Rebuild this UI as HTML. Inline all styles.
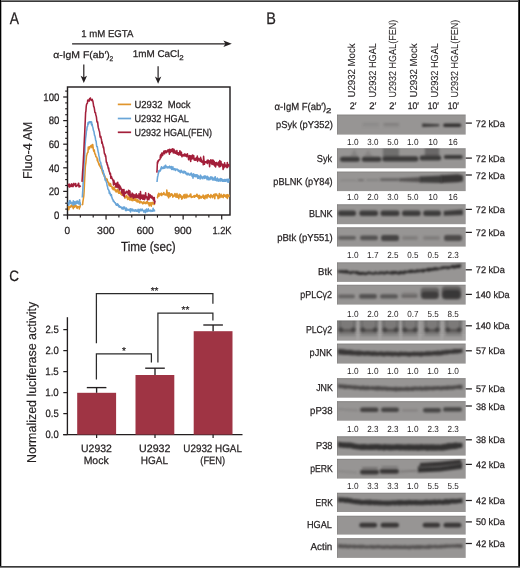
<!DOCTYPE html>
<html><head><meta charset="utf-8"><style>
html,body{margin:0;padding:0;background:#fff;}
svg{display:block;will-change:transform;font-family:"Liberation Sans", sans-serif;text-rendering:geometricPrecision;}
</style></head><body>
<svg width="520" height="568" viewBox="0 0 520 568">
<rect width="520" height="568" fill="#fff"/>
<text x="9.77" y="24.00" font-size="16.80" textLength="9.26" lengthAdjust="spacingAndGlyphs" fill="#231f20" stroke="#231f20" stroke-width="0.25">A</text>
<text x="81.18" y="37.30" font-size="9.90" textLength="52.24" lengthAdjust="spacingAndGlyphs" fill="#231f20" stroke="#231f20" stroke-width="0.25">1 mM EGTA</text>
<line x1="72.1" y1="43.8" x2="226" y2="43.8" stroke="#231f20" stroke-width="1.15"/>
<path d="M231.8,43.8 L223.4,40.5 L225.4,43.8 L223.4,47.1 Z" fill="#231f20"/>
<text x="53.16" y="57.90" font-size="9.70" textLength="56.70" lengthAdjust="spacingAndGlyphs" fill="#231f20" stroke="#231f20" stroke-width="0.25">α-IgM F(ab′)</text>
<text x="109.57" y="60.90" font-size="6.80" textLength="3.67" lengthAdjust="spacingAndGlyphs" fill="#231f20" stroke="#231f20" stroke-width="0.25">2</text>
<text x="132.76" y="57.30" font-size="9.80" textLength="46.71" lengthAdjust="spacingAndGlyphs" fill="#231f20" stroke="#231f20" stroke-width="0.25">1mM CaCl</text>
<text x="179.20" y="60.30" font-size="6.80" textLength="4.40" lengthAdjust="spacingAndGlyphs" fill="#231f20" stroke="#231f20" stroke-width="0.25">2</text>
<line x1="83.8" y1="64.4" x2="83.8" y2="79.0" stroke="#231f20" stroke-width="1.2"/>
<path d="M83.8,83.0 L80.6,75.8 L83.8,77.6 L87.0,75.8 Z" fill="#231f20"/>
<line x1="158.1" y1="66.3" x2="158.1" y2="79.8" stroke="#231f20" stroke-width="1.2"/>
<path d="M158.1,83.8 L154.9,76.6 L158.1,78.39999999999999 L161.29999999999998,76.6 Z" fill="#231f20"/>
<rect x="67.5" y="87" width="162.5" height="128" fill="none" stroke="#231f20" stroke-width="1.45"/>
<line x1="63.2" y1="215.0" x2="67.5" y2="215.0" stroke="#231f20" stroke-width="1.25"/>
<text x="54.04" y="218.80" font-size="10.90" textLength="5.33" lengthAdjust="spacingAndGlyphs" fill="#231f20" stroke="#231f20" stroke-width="0.25">0</text>
<line x1="65.2" y1="209.1" x2="67.5" y2="209.1" stroke="#231f20" stroke-width="1.15"/>
<line x1="65.2" y1="203.2" x2="67.5" y2="203.2" stroke="#231f20" stroke-width="1.15"/>
<line x1="65.2" y1="197.3" x2="67.5" y2="197.3" stroke="#231f20" stroke-width="1.15"/>
<line x1="63.2" y1="191.4" x2="67.5" y2="191.4" stroke="#231f20" stroke-width="1.25"/>
<text x="48.71" y="195.20" font-size="10.90" textLength="10.67" lengthAdjust="spacingAndGlyphs" fill="#231f20" stroke="#231f20" stroke-width="0.25">20</text>
<line x1="65.2" y1="185.5" x2="67.5" y2="185.5" stroke="#231f20" stroke-width="1.15"/>
<line x1="65.2" y1="179.6" x2="67.5" y2="179.6" stroke="#231f20" stroke-width="1.15"/>
<line x1="65.2" y1="173.7" x2="67.5" y2="173.7" stroke="#231f20" stroke-width="1.15"/>
<line x1="63.2" y1="167.8" x2="67.5" y2="167.8" stroke="#231f20" stroke-width="1.25"/>
<text x="48.71" y="171.60" font-size="10.90" textLength="10.67" lengthAdjust="spacingAndGlyphs" fill="#231f20" stroke="#231f20" stroke-width="0.25">40</text>
<line x1="65.2" y1="161.9" x2="67.5" y2="161.9" stroke="#231f20" stroke-width="1.15"/>
<line x1="65.2" y1="156.0" x2="67.5" y2="156.0" stroke="#231f20" stroke-width="1.15"/>
<line x1="65.2" y1="150.10000000000002" x2="67.5" y2="150.10000000000002" stroke="#231f20" stroke-width="1.15"/>
<line x1="63.2" y1="144.2" x2="67.5" y2="144.2" stroke="#231f20" stroke-width="1.25"/>
<text x="48.71" y="148.00" font-size="10.90" textLength="10.67" lengthAdjust="spacingAndGlyphs" fill="#231f20" stroke="#231f20" stroke-width="0.25">60</text>
<line x1="65.2" y1="138.3" x2="67.5" y2="138.3" stroke="#231f20" stroke-width="1.15"/>
<line x1="65.2" y1="132.4" x2="67.5" y2="132.4" stroke="#231f20" stroke-width="1.15"/>
<line x1="65.2" y1="126.5" x2="67.5" y2="126.5" stroke="#231f20" stroke-width="1.15"/>
<line x1="63.2" y1="120.60000000000001" x2="67.5" y2="120.60000000000001" stroke="#231f20" stroke-width="1.25"/>
<text x="48.71" y="124.40" font-size="10.90" textLength="10.67" lengthAdjust="spacingAndGlyphs" fill="#231f20" stroke="#231f20" stroke-width="0.25">80</text>
<line x1="65.2" y1="114.7" x2="67.5" y2="114.7" stroke="#231f20" stroke-width="1.15"/>
<line x1="65.2" y1="108.80000000000001" x2="67.5" y2="108.80000000000001" stroke="#231f20" stroke-width="1.15"/>
<line x1="65.2" y1="102.9" x2="67.5" y2="102.9" stroke="#231f20" stroke-width="1.15"/>
<line x1="63.2" y1="97.0" x2="67.5" y2="97.0" stroke="#231f20" stroke-width="1.25"/>
<text x="43.37" y="100.80" font-size="10.90" textLength="16.00" lengthAdjust="spacingAndGlyphs" fill="#231f20" stroke="#231f20" stroke-width="0.25">100</text>
<line x1="65.2" y1="91.10000000000001" x2="67.5" y2="91.10000000000001" stroke="#231f20" stroke-width="1.15"/>
<line x1="67.5" y1="215" x2="67.5" y2="219.4" stroke="#231f20" stroke-width="1.25"/>
<text x="64.40" y="233.50" font-size="10.40" textLength="5.59" lengthAdjust="spacingAndGlyphs" fill="#231f20" stroke="#231f20" stroke-width="0.25">0</text>
<line x1="80.35" y1="215" x2="80.35" y2="217.6" stroke="#231f20" stroke-width="1.15"/>
<line x1="93.2" y1="215" x2="93.2" y2="217.6" stroke="#231f20" stroke-width="1.15"/>
<line x1="106.05000000000001" y1="215" x2="106.05000000000001" y2="219.4" stroke="#231f20" stroke-width="1.25"/>
<text x="97.11" y="233.50" font-size="10.40" textLength="17.50" lengthAdjust="spacingAndGlyphs" fill="#231f20" stroke="#231f20" stroke-width="0.25">300</text>
<line x1="118.9" y1="215" x2="118.9" y2="217.6" stroke="#231f20" stroke-width="1.15"/>
<line x1="131.75" y1="215" x2="131.75" y2="217.6" stroke="#231f20" stroke-width="1.15"/>
<line x1="144.60000000000002" y1="215" x2="144.60000000000002" y2="219.4" stroke="#231f20" stroke-width="1.25"/>
<text x="136.38" y="233.50" font-size="10.40" textLength="17.32" lengthAdjust="spacingAndGlyphs" fill="#231f20" stroke="#231f20" stroke-width="0.25">600</text>
<line x1="157.45" y1="215" x2="157.45" y2="217.6" stroke="#231f20" stroke-width="1.15"/>
<line x1="170.3" y1="215" x2="170.3" y2="217.6" stroke="#231f20" stroke-width="1.15"/>
<line x1="183.15" y1="215" x2="183.15" y2="219.4" stroke="#231f20" stroke-width="1.25"/>
<text x="174.25" y="233.50" font-size="10.40" textLength="17.40" lengthAdjust="spacingAndGlyphs" fill="#231f20" stroke="#231f20" stroke-width="0.25">900</text>
<line x1="196.0" y1="215" x2="196.0" y2="217.6" stroke="#231f20" stroke-width="1.15"/>
<line x1="208.85" y1="215" x2="208.85" y2="217.6" stroke="#231f20" stroke-width="1.15"/>
<line x1="221.70000000000002" y1="215" x2="221.70000000000002" y2="219.4" stroke="#231f20" stroke-width="1.25"/>
<text x="212.40" y="233.50" font-size="10.40" textLength="19.21" lengthAdjust="spacingAndGlyphs" fill="#231f20" stroke="#231f20" stroke-width="0.25">1.2K</text>
<text x="121.04" y="251.20" font-size="13.20" textLength="54.59" lengthAdjust="spacingAndGlyphs" fill="#231f20" stroke="#231f20" stroke-width="0.25">Time (sec)</text>
<text transform="translate(32.30,179.04) rotate(-90)" x="0" y="0" font-size="12.90" textLength="57.37" lengthAdjust="spacingAndGlyphs" fill="#231f20" stroke="#231f20" stroke-width="0.12">Fluo-4 AM</text>
<line x1="117.8" y1="104.4" x2="131.1" y2="104.4" stroke="#e0952c" stroke-width="1.7"/>
<text x="134.46" y="107.80" font-size="10.20" textLength="56.03" lengthAdjust="spacingAndGlyphs" fill="#231f20" stroke="#231f20" stroke-width="0.25">U2932  Mock</text>
<line x1="117.8" y1="118.5" x2="131.1" y2="118.5" stroke="#69a5d8" stroke-width="1.7"/>
<text x="134.49" y="121.90" font-size="10.20" textLength="54.31" lengthAdjust="spacingAndGlyphs" fill="#231f20" stroke="#231f20" stroke-width="0.25">U2932 HGAL</text>
<line x1="117.8" y1="132.3" x2="131.1" y2="132.3" stroke="#a31f3a" stroke-width="1.7"/>
<text x="134.50" y="135.70" font-size="10.20" textLength="77.47" lengthAdjust="spacingAndGlyphs" fill="#231f20" stroke="#231f20" stroke-width="0.25">U2932 HGAL(FEN)</text>
<path d="M68.20,207.27 L68.50,206.61 L68.80,209.75 L69.10,207.73 L69.40,206.99 L69.70,207.14 L70.00,207.33 L70.30,206.27 L70.60,206.64 L70.90,206.87 L71.20,205.94 L71.50,205.13 L71.80,205.13 L72.10,206.73 L72.40,206.95 L72.70,205.73 L73.00,206.68 L73.30,208.65 L73.60,207.60 L73.90,205.49 L74.20,207.20 L74.50,207.16 L74.80,206.28 L75.10,206.57 L75.40,204.92 L75.70,205.76 L76.00,205.61 L76.30,205.94 L76.60,207.58 L76.90,207.89 L77.20,208.32 L77.50,206.59 L77.80,206.58 L78.10,206.52 L78.40,206.94 L78.70,206.93 L79.00,206.74 L79.30,208.97 L79.60,206.67 L79.90,207.25 L80.20,206.07 L80.50,204.26 M82.00,204.83 L82.30,204.41 L82.60,204.62 L82.90,201.56 L83.20,199.79 L83.50,197.82 L83.80,195.97 L84.10,191.53 L84.40,184.92 L84.70,178.56 L85.00,173.28 L85.30,167.16 L85.60,164.51 L85.90,162.60 L86.20,159.41 L86.50,155.84 L86.80,154.96 L87.10,153.76 L87.40,152.93 L87.70,152.57 L88.00,152.22 L88.30,147.09 L88.60,148.55 L88.90,148.13 L89.20,148.91 L89.50,146.89 L89.80,148.11 L90.10,146.96 L90.40,146.27 L90.70,145.73 L91.00,146.44 L91.30,145.21 L91.60,146.44 L91.90,147.62 L92.20,146.59 L92.50,144.57 L92.80,144.68 L93.10,147.99 L93.40,149.50 L93.70,151.18 L94.00,150.89 L94.30,150.04 L94.60,152.72 L94.90,153.81 L95.20,154.56 L95.50,154.10 L95.80,156.59 L96.10,156.95 L96.40,157.15 L96.70,157.05 L97.00,158.00 L97.30,160.59 L97.60,158.73 L97.90,161.99 L98.20,162.01 L98.50,162.77 L98.80,164.06 L99.10,165.06 L99.40,164.08 L99.70,164.79 L100.00,166.52 L100.30,166.14 L100.60,167.19 L100.90,168.19 L101.20,167.81 L101.50,168.61 L101.80,170.17 L102.10,170.17 L102.40,172.08 L102.70,171.95 L103.00,173.76 L103.30,173.71 L103.60,174.62 L103.90,174.81 L104.20,176.08 L104.50,176.74 L104.80,175.94 L105.10,177.03 L105.40,178.68 L105.70,178.23 L106.00,180.19 L106.30,179.43 L106.60,179.06 L106.90,180.51 L107.20,179.15 L107.50,181.59 L107.80,182.27 L108.10,181.86 L108.40,182.67 L108.70,182.45 L109.00,185.24 L109.30,183.81 L109.60,184.64 L109.90,185.34 L110.20,186.22 L110.50,183.62 L110.80,184.65 L111.10,186.23 L111.40,186.39 L111.70,186.94 L112.00,186.70 L112.30,188.67 L112.60,187.73 L112.90,187.35 L113.20,189.75 L113.50,188.75 L113.80,187.47 L114.10,188.73 L114.40,186.95 L114.70,189.73 L115.00,190.25 L115.30,190.93 L115.60,189.91 L115.90,190.08 L116.20,192.01 L116.50,191.31 L116.80,190.78 L117.10,191.74 L117.40,189.22 L117.70,190.68 L118.00,189.77 L118.30,191.69 L118.60,193.17 L118.90,191.75 L119.20,191.24 L119.50,193.18 L119.80,191.76 L120.10,193.19 L120.40,192.18 L120.70,194.09 L121.00,192.08 L121.30,193.59 L121.60,194.45 L121.90,195.10 L122.20,194.56 L122.50,194.30 L122.80,195.03 L123.10,194.98 L123.40,194.99 L123.70,195.56 L124.00,193.20 L124.30,195.66 L124.60,196.46 L124.90,198.17 L125.20,197.35 L125.50,196.20 L125.80,197.24 L126.10,197.50 L126.40,196.50 L126.70,195.41 L127.00,196.43 L127.30,196.89 L127.60,199.47 L127.90,198.82 L128.20,199.07 L128.50,197.01 L128.80,197.97 L129.10,197.29 L129.40,199.51 L129.70,199.97 L130.00,197.54 L130.30,199.49 L130.60,199.00 L130.90,196.91 L131.20,200.40 L131.50,199.58 L131.80,197.63 L132.10,197.81 L132.40,198.41 L132.70,200.76 L133.00,200.33 L133.30,200.11 L133.60,199.72 L133.90,197.52 L134.20,198.71 L134.50,200.33 L134.80,200.01 L135.10,200.05 L135.40,200.39 L135.70,198.32 L136.00,201.01 L136.30,200.62 L136.60,200.59 L136.90,200.16 L137.20,202.09 L137.50,201.92 L137.80,199.53 L138.10,201.65 L138.40,201.25 L138.70,202.02 L139.00,201.07 L139.30,201.35 L139.60,202.80 L139.90,203.00 L140.20,201.65 L140.50,201.26 L140.80,202.02 L141.10,202.01 L141.40,201.89 L141.70,202.58 L142.00,202.19 L142.30,202.17 L142.60,203.77 L142.90,203.73 L143.20,202.16 L143.50,203.27 L143.80,201.76 L144.10,202.09 L144.40,202.99 L144.70,202.77 L145.00,203.33 L145.30,202.49 L145.60,203.13 L145.90,203.67 L146.20,203.40 L146.50,201.79 L146.80,203.04 L147.10,202.64 L147.40,201.59 L147.70,202.60 L148.00,203.10 L148.30,203.97 L148.60,202.80 L148.90,203.77 L149.20,205.89 L149.50,204.39 L149.80,202.81 L150.10,204.93 L150.40,203.67 L150.70,204.24 L151.00,202.62 L151.30,206.28 L151.60,203.78 L151.90,203.22 L152.20,202.70 L152.50,203.93 L152.80,202.39 L153.10,202.38 L153.40,203.44 L153.70,203.30 L154.00,204.56 L154.30,204.04 L154.60,204.97 M156.90,198.01 L157.20,197.83 L157.50,197.81 L157.80,195.95 L158.10,194.35 L158.40,196.04 L158.70,193.21 L159.00,196.20 L159.30,193.87 L159.60,194.04 L159.90,193.96 L160.20,194.48 L160.50,193.68 L160.80,195.08 L161.10,193.91 L161.40,193.16 L161.70,195.56 L162.00,193.68 L162.30,193.83 L162.60,194.49 L162.90,194.11 L163.20,194.50 L163.50,194.23 L163.80,192.44 L164.10,193.96 L164.40,193.81 L164.70,193.97 L165.00,194.91 L165.30,194.36 L165.60,194.30 L165.90,194.99 L166.20,195.07 L166.50,194.93 L166.80,190.07 L167.10,192.33 L167.40,195.91 L167.70,194.54 L168.00,192.85 L168.30,194.84 L168.60,197.82 L168.90,193.90 L169.20,192.79 L169.50,194.78 L169.80,196.42 L170.10,196.44 L170.40,195.54 L170.70,194.41 L171.00,193.88 L171.30,194.67 L171.60,193.67 L171.90,195.27 L172.20,194.35 L172.50,195.68 L172.80,197.16 L173.10,195.52 L173.40,195.61 L173.70,195.31 L174.00,196.16 L174.30,195.14 L174.60,195.28 L174.90,193.46 L175.20,194.07 L175.50,196.09 L175.80,195.99 L176.10,197.27 L176.40,196.09 L176.70,194.68 L177.00,193.54 L177.30,197.31 L177.60,194.92 L177.90,196.86 L178.20,195.42 L178.50,195.59 L178.80,198.74 L179.10,196.05 L179.40,194.32 L179.70,196.78 L180.00,196.57 L180.30,194.77 L180.60,196.25 L180.90,197.16 L181.20,195.89 L181.50,196.71 L181.80,199.11 L182.10,196.21 L182.40,196.78 L182.70,198.31 L183.00,197.45 L183.30,197.22 L183.60,196.80 L183.90,194.78 L184.20,195.38 L184.50,195.98 L184.80,198.12 L185.10,194.25 L185.40,196.91 L185.70,196.99 L186.00,197.53 L186.30,195.95 L186.60,197.76 L186.90,194.33 L187.20,196.16 L187.50,195.96 L187.80,195.81 L188.10,196.86 L188.40,196.13 L188.70,196.54 L189.00,196.22 L189.30,196.46 L189.60,195.77 L189.90,195.60 L190.20,194.41 L190.50,196.55 L190.80,194.08 L191.10,196.44 L191.40,197.41 L191.70,196.98 L192.00,196.74 L192.30,196.87 L192.60,197.10 L192.90,196.94 L193.20,196.39 L193.50,196.69 L193.80,195.89 L194.10,196.24 L194.40,197.31 L194.70,195.49 L195.00,196.40 L195.30,195.61 L195.60,196.57 L195.90,195.77 L196.20,195.39 L196.50,196.23 L196.80,194.32 L197.10,194.37 L197.40,195.58 L197.70,197.07 L198.00,195.93 L198.30,195.78 L198.60,195.69 L198.90,198.78 L199.20,195.24 L199.50,196.93 L199.80,198.31 L200.10,197.16 L200.40,196.40 L200.70,196.33 L201.00,197.68 L201.30,197.99 L201.60,196.94 L201.90,196.64 L202.20,196.95 L202.50,196.87 L202.80,197.17 L203.10,194.96 L203.40,196.84 L203.70,198.27 L204.00,195.90 L204.30,197.65 L204.60,196.40 L204.90,198.90 L205.20,195.91 L205.50,195.96 L205.80,195.30 L206.10,197.17 L206.40,195.18 L206.70,197.55 L207.00,198.15 L207.30,196.91 L207.60,194.89 L207.90,196.12 L208.20,194.48 L208.50,195.87 L208.80,195.63 L209.10,196.91 L209.40,196.85 L209.70,196.58 L210.00,195.90 L210.30,197.31 L210.60,197.70 L210.90,194.60 L211.20,196.16 L211.50,195.49 L211.80,196.57 L212.10,196.58 L212.40,196.19 L212.70,197.68 L213.00,195.41 L213.30,196.53 L213.60,194.62 L213.90,195.63 L214.20,196.62 L214.50,196.35 L214.80,198.71 L215.10,193.85 L215.40,195.24 L215.70,195.48 L216.00,195.29 L216.30,195.22 L216.60,194.05 L216.90,195.49 L217.20,195.33 L217.50,195.50 L217.80,196.59 L218.10,198.72 L218.40,198.07 L218.70,196.31 L219.00,196.19 L219.30,193.53 L219.60,197.69 L219.90,197.67 L220.20,196.25 L220.50,196.60 L220.80,195.46 L221.10,194.35 L221.40,196.98 L221.70,195.44 L222.00,196.67 L222.30,195.79 L222.60,196.67 L222.90,197.22 L223.20,197.63 L223.50,194.64 L223.80,195.32 L224.10,194.68 L224.40,196.18 L224.70,195.17 L225.00,196.12 L225.30,196.14 L225.60,196.85 L225.90,196.49 L226.20,194.82 L226.50,196.61 L226.80,197.60 L227.10,196.96 L227.40,198.37 L227.70,194.65 L228.00,196.66 L228.30,196.64 L228.60,195.30 L228.90,195.17 L229.20,196.85" fill="none" stroke="#e0952c" stroke-width="1.55" stroke-linejoin="round"/>
<path d="M68.20,202.27 L68.50,203.72 L68.80,205.13 L69.10,202.29 L69.40,200.82 L69.70,200.74 L70.00,200.48 L70.30,201.61 L70.60,203.37 L70.90,203.04 L71.20,202.42 L71.50,203.62 L71.80,202.53 L72.10,203.01 L72.40,203.65 L72.70,202.46 L73.00,205.06 L73.30,200.75 L73.60,201.63 L73.90,202.35 L74.20,204.68 L74.50,202.73 L74.80,201.69 L75.10,202.37 L75.40,203.69 L75.70,204.07 L76.00,202.49 L76.30,201.35 L76.60,203.37 L76.90,203.32 L77.20,201.75 L77.50,201.04 L77.80,202.86 L78.10,201.76 L78.40,203.70 L78.70,202.25 L79.00,204.08 L79.30,201.94 L79.60,199.69 L79.90,201.92 L80.20,202.92 L80.50,205.42 M82.30,197.53 L82.60,193.00 L82.90,188.09 L83.20,181.82 L83.50,177.11 L83.80,170.08 L84.10,164.31 L84.40,159.01 L84.70,156.00 L85.00,146.69 L85.30,142.62 L85.60,138.42 L85.90,136.34 L86.20,134.03 L86.50,130.24 L86.80,130.13 L87.10,126.93 L87.40,126.81 L87.70,125.63 L88.00,122.89 L88.30,122.21 L88.60,123.88 L88.90,122.18 L89.20,122.80 L89.50,121.76 L89.80,121.80 L90.10,121.92 L90.40,122.26 L90.70,121.83 L91.00,121.71 L91.30,124.28 L91.60,122.14 L91.90,125.34 L92.20,124.15 L92.50,126.77 L92.80,127.05 L93.10,128.59 L93.40,130.34 L93.70,130.86 L94.00,131.67 L94.30,133.82 L94.60,135.56 L94.90,135.85 L95.20,137.18 L95.50,139.23 L95.80,140.73 L96.10,140.99 L96.40,143.60 L96.70,146.50 L97.00,146.81 L97.30,146.65 L97.60,148.80 L97.90,150.40 L98.20,152.18 L98.50,152.88 L98.80,155.21 L99.10,156.30 L99.40,157.27 L99.70,160.36 L100.00,161.20 L100.30,161.89 L100.60,162.08 L100.90,163.56 L101.20,164.89 L101.50,165.91 L101.80,166.61 L102.10,168.20 L102.40,169.65 L102.70,171.21 L103.00,170.46 L103.30,171.00 L103.60,173.55 L103.90,175.21 L104.20,174.11 L104.50,176.90 L104.80,177.42 L105.10,180.07 L105.40,179.19 L105.70,179.85 L106.00,181.27 L106.30,181.89 L106.60,182.71 L106.90,184.25 L107.20,186.25 L107.50,186.25 L107.80,188.51 L108.10,189.23 L108.40,189.42 L108.70,190.17 L109.00,190.57 L109.30,193.47 L109.60,191.73 L109.90,193.33 L110.20,193.34 L110.50,195.16 L110.80,195.69 L111.10,195.32 L111.40,194.63 L111.70,197.10 L112.00,197.48 L112.30,198.95 L112.60,199.25 L112.90,199.18 L113.20,201.05 L113.50,200.57 L113.80,201.41 L114.10,201.36 L114.40,202.14 L114.70,202.79 L115.00,202.51 L115.30,202.86 L115.60,203.69 L115.90,204.60 L116.20,203.91 L116.50,205.20 L116.80,204.36 L117.10,205.23 L117.40,203.83 L117.70,203.98 L118.00,205.34 L118.30,204.66 L118.60,206.68 L118.90,206.32 L119.20,205.83 L119.50,205.91 L119.80,207.22 L120.10,207.11 L120.40,206.81 L120.70,207.16 L121.00,207.65 L121.30,207.12 L121.60,207.51 L121.90,208.71 L122.20,208.48 L122.50,207.60 L122.80,208.80 L123.10,209.11 L123.40,207.09 L123.70,208.31 L124.00,207.47 L124.30,208.54 L124.60,207.04 L124.90,207.55 L125.20,208.01 L125.50,210.51 L125.80,208.59 L126.10,210.71 L126.40,208.12 L126.70,210.07 L127.00,210.26 L127.30,209.13 L127.60,209.90 L127.90,209.61 L128.20,210.21 L128.50,209.66 L128.80,209.91 L129.10,209.38 L129.40,209.76 L129.70,210.64 L130.00,210.31 L130.30,208.91 L130.60,212.05 L130.90,208.74 L131.20,210.52 L131.50,209.36 L131.80,209.36 L132.10,210.08 L132.40,210.58 L132.70,209.14 L133.00,211.02 L133.30,210.60 L133.60,210.26 L133.90,210.30 L134.20,210.96 L134.50,210.22 L134.80,211.08 L135.10,209.80 L135.40,210.60 L135.70,210.88 L136.00,209.81 L136.30,211.19 L136.60,210.60 L136.90,210.66 L137.20,211.32 L137.50,211.16 L137.80,209.95 L138.10,209.19 L138.40,211.20 L138.70,209.85 L139.00,212.54 L139.30,210.30 L139.60,209.50 L139.90,210.47 L140.20,210.80 L140.50,210.63 L140.80,209.16 L141.10,210.72 L141.40,209.52 L141.70,210.55 L142.00,209.41 L142.30,209.15 L142.60,210.18 L142.90,210.74 L143.20,210.64 L143.50,210.81 L143.80,211.93 L144.10,210.47 L144.40,211.37 L144.70,211.59 L145.00,210.30 L145.30,212.64 L145.60,210.04 L145.90,211.06 L146.20,211.19 L146.50,209.04 L146.80,211.75 L147.10,209.90 L147.40,211.52 L147.70,211.09 L148.00,210.93 L148.30,208.74 L148.60,210.89 L148.90,210.64 L149.20,210.64 L149.50,210.97 L149.80,210.56 L150.10,210.12 L150.40,210.18 L150.70,210.72 L151.00,211.50 L151.30,210.68 L151.60,210.48 L151.90,210.85 L152.20,210.98 L152.50,211.19 L152.80,211.29 L153.10,208.36 L153.40,209.86 L153.70,210.62 L154.00,209.76 L154.30,210.84 L154.60,210.74 L154.90,210.25 M157.00,181.98 L157.30,179.45 L157.60,176.65 L157.90,175.96 L158.20,173.84 L158.50,173.19 L158.80,170.82 L159.10,171.58 L159.40,171.57 L159.70,170.42 L160.00,169.98 L160.30,171.08 L160.60,170.08 L160.90,168.08 L161.20,168.91 L161.50,166.72 L161.80,168.60 L162.10,167.50 L162.40,167.49 L162.70,168.06 L163.00,168.56 L163.30,167.40 L163.60,168.20 L163.90,167.99 L164.20,166.34 L164.50,167.97 L164.80,168.21 L165.10,167.10 L165.40,165.26 L165.70,165.22 L166.00,166.64 L166.30,166.93 L166.60,167.03 L166.90,166.82 L167.20,167.98 L167.50,167.05 L167.80,166.90 L168.10,166.73 L168.40,167.61 L168.70,167.41 L169.00,167.29 L169.30,167.89 L169.60,166.14 L169.90,166.72 L170.20,167.72 L170.50,167.31 L170.80,167.23 L171.10,168.57 L171.40,166.48 L171.70,169.41 L172.00,168.31 L172.30,169.12 L172.60,169.07 L172.90,166.76 L173.20,169.58 L173.50,169.04 L173.80,168.80 L174.10,169.77 L174.40,168.65 L174.70,168.99 L175.00,169.60 L175.30,169.29 L175.60,170.43 L175.90,168.94 L176.20,169.66 L176.50,169.43 L176.80,169.38 L177.10,169.17 L177.40,169.43 L177.70,169.58 L178.00,170.81 L178.30,170.05 L178.60,171.22 L178.90,171.29 L179.20,170.52 L179.50,171.70 L179.80,171.19 L180.10,171.31 L180.40,172.67 L180.70,171.85 L181.00,170.24 L181.30,170.95 L181.60,170.56 L181.90,171.98 L182.20,171.60 L182.50,172.55 L182.80,172.24 L183.10,172.91 L183.40,171.90 L183.70,173.00 L184.00,171.01 L184.30,172.79 L184.60,172.03 L184.90,171.83 L185.20,172.86 L185.50,171.84 L185.80,173.76 L186.10,172.69 L186.40,173.48 L186.70,174.34 L187.00,174.70 L187.30,174.34 L187.60,173.35 L187.90,174.77 L188.20,173.33 L188.50,173.97 L188.80,174.48 L189.10,174.51 L189.40,174.43 L189.70,175.12 L190.00,174.02 L190.30,175.07 L190.60,174.61 L190.90,173.78 L191.20,173.07 L191.50,174.30 L191.80,174.92 L192.10,176.40 L192.40,174.43 L192.70,174.61 L193.00,178.18 L193.30,173.85 L193.60,176.57 L193.90,174.67 L194.20,174.43 L194.50,175.41 L194.80,174.88 L195.10,176.56 L195.40,176.64 L195.70,174.88 L196.00,176.33 L196.30,175.75 L196.60,174.85 L196.90,176.95 L197.20,176.85 L197.50,174.94 L197.80,178.35 L198.10,175.49 L198.40,178.25 L198.70,176.43 L199.00,176.36 L199.30,177.67 L199.60,177.26 L199.90,177.93 L200.20,178.98 L200.50,175.15 L200.80,175.69 L201.10,177.36 L201.40,176.57 L201.70,177.02 L202.00,178.40 L202.30,177.31 L202.60,177.24 L202.90,178.62 L203.20,176.51 L203.50,177.57 L203.80,176.80 L204.10,176.55 L204.40,175.97 L204.70,178.37 L205.00,178.24 L205.30,176.23 L205.60,175.95 L205.90,176.80 L206.20,177.91 L206.50,178.21 L206.80,177.28 L207.10,179.71 L207.40,176.36 L207.70,176.84 L208.00,178.21 L208.30,179.06 L208.60,177.63 L208.90,179.92 L209.20,178.37 L209.50,178.92 L209.80,179.14 L210.10,179.55 L210.40,177.27 L210.70,176.81 L211.00,177.83 L211.30,178.38 L211.60,176.98 L211.90,179.02 L212.20,179.15 L212.50,179.85 L212.80,177.40 L213.10,179.23 L213.40,179.13 L213.70,179.83 L214.00,178.73 L214.30,179.97 L214.60,178.16 L214.90,177.30 L215.20,176.74 L215.50,180.12 L215.80,178.77 L216.10,179.21 L216.40,180.66 L216.70,180.20 L217.00,180.66 L217.30,178.05 L217.60,179.50 L217.90,178.82 L218.20,181.17 L218.50,180.27 L218.80,180.98 L219.10,180.82 L219.40,179.41 L219.70,180.46 L220.00,180.90 L220.30,178.54 L220.60,180.97 L220.90,179.98 L221.20,178.71 L221.50,180.46 L221.80,180.29 L222.10,179.22 L222.40,181.31 L222.70,181.17 L223.00,180.20 L223.30,180.06 L223.60,181.25 L223.90,180.84 L224.20,179.53 L224.50,179.88 L224.80,181.28 L225.10,179.61 L225.40,181.31 L225.70,181.17 L226.00,181.07 L226.30,179.50 L226.60,180.23 L226.90,180.15 L227.20,179.33 L227.50,181.97 L227.80,181.62 L228.10,180.47 L228.40,179.30 L228.70,182.23 L229.00,179.27 L229.30,180.57" fill="none" stroke="#69a5d8" stroke-width="1.55" stroke-linejoin="round"/>
<path d="M68.20,184.00 L68.50,185.37 L68.80,186.39 L69.10,183.92 L69.40,187.08 L69.70,184.69 L70.00,186.09 L70.30,186.63 L70.60,185.68 L70.90,186.06 L71.20,184.53 L71.50,183.87 L71.80,186.41 L72.10,184.88 L72.40,184.60 L72.70,184.22 L73.00,186.67 L73.30,186.03 L73.60,183.89 L73.90,183.35 L74.20,184.76 L74.50,184.12 L74.80,184.68 L75.10,184.96 L75.40,185.86 L75.70,183.64 L76.00,186.59 L76.30,185.99 L76.60,186.15 L76.90,185.61 L77.20,185.74 L77.50,185.61 L77.80,184.78 L78.10,184.91 L78.40,183.35 L78.70,183.32 L79.00,187.06 L79.30,185.62 L79.60,185.66 L79.90,186.45 L80.20,186.03 L80.50,186.73 M82.00,181.85 L82.30,177.53 L82.60,172.05 L82.90,168.23 L83.20,163.00 L83.50,157.60 L83.80,151.87 L84.10,144.75 L84.40,138.76 L84.70,132.98 L85.00,126.27 L85.30,119.88 L85.60,112.54 L85.90,111.25 L86.20,106.87 L86.50,104.70 L86.80,103.74 L87.10,103.69 L87.40,103.21 L87.70,100.34 L88.00,99.96 L88.30,100.89 L88.60,100.89 L88.90,100.44 L89.20,101.09 L89.50,98.90 L89.80,99.74 L90.10,98.48 L90.40,98.00 L90.70,99.06 L91.00,99.86 L91.30,100.00 L91.60,100.44 L91.90,99.62 L92.20,99.31 L92.50,100.60 L92.80,100.89 L93.10,102.71 L93.40,104.36 L93.70,106.69 L94.00,106.72 L94.30,108.11 L94.60,110.12 L94.90,112.29 L95.20,112.69 L95.50,112.56 L95.80,115.02 L96.10,115.75 L96.40,116.91 L96.70,119.69 L97.00,122.01 L97.30,122.24 L97.60,121.86 L97.90,124.62 L98.20,127.17 L98.50,128.32 L98.80,129.41 L99.10,130.44 L99.40,131.17 L99.70,132.84 L100.00,135.96 L100.30,137.33 L100.60,136.28 L100.90,136.76 L101.20,138.89 L101.50,139.52 L101.80,143.29 L102.10,141.87 L102.40,143.63 L102.70,144.31 L103.00,145.88 L103.30,147.66 L103.60,147.00 L103.90,149.29 L104.20,152.02 L104.50,153.88 L104.80,154.25 L105.10,154.05 L105.40,156.51 L105.70,155.68 L106.00,158.77 L106.30,162.04 L106.60,162.77 L106.90,162.32 L107.20,164.87 L107.50,164.71 L107.80,165.97 L108.10,167.67 L108.40,168.90 L108.70,167.94 L109.00,171.14 L109.30,171.12 L109.60,172.60 L109.90,174.15 L110.20,173.06 L110.50,173.67 L110.80,178.30 L111.10,177.39 L111.40,176.43 L111.70,177.32 L112.00,178.65 L112.30,178.72 L112.60,179.26 L112.90,180.17 L113.20,181.01 L113.50,185.05 L113.80,180.25 L114.10,182.04 L114.40,182.24 L114.70,183.16 L115.00,184.57 L115.30,183.70 L115.60,184.30 L115.90,187.19 L116.20,183.52 L116.50,186.35 L116.80,186.53 L117.10,187.07 L117.40,182.57 L117.70,182.31 L118.00,185.70 L118.30,187.68 L118.60,186.47 L118.90,184.63 L119.20,188.54 L119.50,189.95 L119.80,185.66 L120.10,187.72 L120.40,186.73 L120.70,187.51 L121.00,189.00 L121.30,188.77 L121.60,190.98 L121.90,193.05 L122.20,190.88 L122.50,192.07 L122.80,189.58 L123.10,195.37 L123.40,193.50 L123.70,193.07 L124.00,189.52 L124.30,196.63 L124.60,192.91 L124.90,192.52 L125.20,192.38 L125.50,193.34 L125.80,192.99 L126.10,192.44 L126.40,191.35 L126.70,192.83 L127.00,192.39 L127.30,192.77 L127.60,193.07 L127.90,191.45 L128.20,194.43 L128.50,190.18 L128.80,190.83 L129.10,195.32 L129.40,195.76 L129.70,190.90 L130.00,191.44 L130.30,196.93 L130.60,195.97 L130.90,195.99 L131.20,194.72 L131.50,196.79 L131.80,196.84 L132.10,193.00 L132.40,193.75 L132.70,196.89 L133.00,195.88 L133.30,198.23 L133.60,194.36 L133.90,197.74 L134.20,195.20 L134.50,197.07 L134.80,197.36 L135.10,194.90 L135.40,195.51 L135.70,197.17 L136.00,195.86 L136.30,193.79 L136.60,196.23 L136.90,197.69 L137.20,196.72 L137.50,195.22 L137.80,195.83 L138.10,197.37 L138.40,197.31 L138.70,198.06 L139.00,193.76 L139.30,194.98 L139.60,194.87 L139.90,198.35 L140.20,199.50 L140.50,191.47 L140.80,197.22 L141.10,196.22 L141.40,195.25 L141.70,198.54 L142.00,194.98 L142.30,197.76 L142.60,195.24 L142.90,199.34 L143.20,196.65 L143.50,196.67 L143.80,194.95 L144.10,197.44 L144.40,199.64 L144.70,199.22 L145.00,198.00 L145.30,197.05 L145.60,192.80 L145.90,195.84 L146.20,197.66 L146.50,197.00 L146.80,196.74 L147.10,197.04 L147.40,199.99 L147.70,197.08 L148.00,198.79 L148.30,197.73 L148.60,193.61 L148.90,199.76 L149.20,195.88 L149.50,198.27 L149.80,197.68 L150.10,194.67 L150.40,197.03 L150.70,197.09 L151.00,197.24 L151.30,196.06 L151.60,198.04 L151.90,195.91 L152.20,196.68 L152.50,198.06 L152.80,197.21 L153.10,199.65 L153.40,198.04 L153.70,199.69 L154.00,200.74 L154.30,197.56 L154.60,203.45 L154.90,201.59 L155.20,200.50 M156.80,172.55 L157.10,169.97 L157.40,161.98 L157.70,163.12 L158.00,160.79 L158.30,161.57 L158.60,160.46 L158.90,160.05 L159.20,159.97 L159.50,159.74 L159.80,159.64 L160.10,158.67 L160.40,155.45 L160.70,154.69 L161.00,157.78 L161.30,154.86 L161.60,153.45 L161.90,153.00 L162.20,153.61 L162.50,155.65 L162.80,154.73 L163.10,153.02 L163.40,152.94 L163.70,151.78 L164.00,151.01 L164.30,153.70 L164.60,153.80 L164.90,151.73 L165.20,150.71 L165.50,151.87 L165.80,151.04 L166.10,151.88 L166.40,152.73 L166.70,151.10 L167.00,151.60 L167.30,151.01 L167.60,150.16 L167.90,151.61 L168.20,149.98 L168.50,151.81 L168.80,150.62 L169.10,149.61 L169.40,154.17 L169.70,149.34 L170.00,150.55 L170.30,152.46 L170.60,150.97 L170.90,151.35 L171.20,149.50 L171.50,149.33 L171.80,151.40 L172.10,149.92 L172.40,151.34 L172.70,148.80 L173.00,149.04 L173.30,152.88 L173.60,151.61 L173.90,149.24 L174.20,152.36 L174.50,152.84 L174.80,150.63 L175.10,151.03 L175.40,153.11 L175.70,153.02 L176.00,152.20 L176.30,153.49 L176.60,153.16 L176.90,150.46 L177.20,154.38 L177.50,152.85 L177.80,154.23 L178.10,152.85 L178.40,153.86 L178.70,155.06 L179.00,152.66 L179.30,154.65 L179.60,153.19 L179.90,150.79 L180.20,152.13 L180.50,153.59 L180.80,155.10 L181.10,153.72 L181.40,152.15 L181.70,155.83 L182.00,156.74 L182.30,155.28 L182.60,155.40 L182.90,154.77 L183.20,155.08 L183.50,155.64 L183.80,156.05 L184.10,155.86 L184.40,153.91 L184.70,155.19 L185.00,154.09 L185.30,156.06 L185.60,156.02 L185.90,155.50 L186.20,154.62 L186.50,156.68 L186.80,155.83 L187.10,156.38 L187.40,153.69 L187.70,156.21 L188.00,155.41 L188.30,157.29 L188.60,159.78 L188.90,157.99 L189.20,156.78 L189.50,155.96 L189.80,155.55 L190.10,157.80 L190.40,160.01 L190.70,161.41 L191.00,155.69 L191.30,157.51 L191.60,159.10 L191.90,158.58 L192.20,157.94 L192.50,154.94 L192.80,157.49 L193.10,158.81 L193.40,155.86 L193.70,155.49 L194.00,158.62 L194.30,160.15 L194.60,159.52 L194.90,159.24 L195.20,158.58 L195.50,158.50 L195.80,160.32 L196.10,159.34 L196.40,157.86 L196.70,160.05 L197.00,159.39 L197.30,156.05 L197.60,161.41 L197.90,157.77 L198.20,160.13 L198.50,159.46 L198.80,160.00 L199.10,158.69 L199.40,159.91 L199.70,159.58 L200.00,160.85 L200.30,161.47 L200.60,157.29 L200.90,160.94 L201.20,158.93 L201.50,160.62 L201.80,162.20 L202.10,162.04 L202.40,161.86 L202.70,161.04 L203.00,161.85 L203.30,164.81 L203.60,156.26 L203.90,159.78 L204.20,163.12 L204.50,164.27 L204.80,161.45 L205.10,162.13 L205.40,161.87 L205.70,162.11 L206.00,162.44 L206.30,161.75 L206.60,162.73 L206.90,162.03 L207.20,160.26 L207.50,163.58 L207.80,160.64 L208.10,160.11 L208.40,162.38 L208.70,162.51 L209.00,160.65 L209.30,162.03 L209.60,166.80 L209.90,162.83 L210.20,160.69 L210.50,162.96 L210.80,159.89 L211.10,161.91 L211.40,161.96 L211.70,162.75 L212.00,164.44 L212.30,160.08 L212.60,164.00 L212.90,161.63 L213.20,160.15 L213.50,164.67 L213.80,164.12 L214.10,161.17 L214.40,164.15 L214.70,165.92 L215.00,162.64 L215.30,163.31 L215.60,166.92 L215.90,164.49 L216.20,163.03 L216.50,162.50 L216.80,164.81 L217.10,163.13 L217.40,163.18 L217.70,163.79 L218.00,164.89 L218.30,165.40 L218.60,161.94 L218.90,163.35 L219.20,166.93 L219.50,166.70 L219.80,160.49 L220.10,164.73 L220.40,166.42 L220.70,163.13 L221.00,161.51 L221.30,164.57 L221.60,164.37 L221.90,163.69 L222.20,165.88 L222.50,164.84 L222.80,166.27 L223.10,169.52 L223.40,164.43 L223.70,168.02 L224.00,167.74 L224.30,165.52 L224.60,162.77 L224.90,166.65 L225.20,165.79 L225.50,166.11 L225.80,165.10 L226.10,166.81 L226.40,165.96 L226.70,165.17 L227.00,167.77 L227.30,162.46 L227.60,167.35 L227.90,165.08 L228.20,164.52 L228.50,165.29 L228.80,164.70 L229.10,166.75" fill="none" stroke="#a31f3a" stroke-width="1.55" stroke-linejoin="round"/>
<text x="9.33" y="280.80" font-size="15.00" textLength="9.71" lengthAdjust="spacingAndGlyphs" fill="#231f20" stroke="#231f20" stroke-width="0.25">C</text>
<text transform="translate(36.10,462.93) rotate(-90)" x="0" y="0" font-size="12.90" textLength="161.05" lengthAdjust="spacingAndGlyphs" fill="#231f20" stroke="#231f20" stroke-width="0.15">Normalized luciferase activity</text>
<line x1="67.4" y1="317.2" x2="67.4" y2="434.6" stroke="#231f20" stroke-width="1.35"/>
<line x1="63.2" y1="434.6" x2="242.5" y2="434.6" stroke="#231f20" stroke-width="1.35"/>
<line x1="63.3" y1="434.6" x2="67.4" y2="434.6" stroke="#231f20" stroke-width="1.25"/>
<text x="45.62" y="438.30" font-size="10.60" textLength="13.13" lengthAdjust="spacingAndGlyphs" fill="#231f20" stroke="#231f20" stroke-width="0.25">0.0</text>
<line x1="63.3" y1="413.6" x2="67.4" y2="413.6" stroke="#231f20" stroke-width="1.25"/>
<text x="45.62" y="417.30" font-size="10.60" textLength="13.16" lengthAdjust="spacingAndGlyphs" fill="#231f20" stroke="#231f20" stroke-width="0.25">0.5</text>
<line x1="63.3" y1="392.6" x2="67.4" y2="392.6" stroke="#231f20" stroke-width="1.25"/>
<text x="45.27" y="396.30" font-size="10.60" textLength="13.49" lengthAdjust="spacingAndGlyphs" fill="#231f20" stroke="#231f20" stroke-width="0.25">1.0</text>
<line x1="63.3" y1="371.6" x2="67.4" y2="371.6" stroke="#231f20" stroke-width="1.25"/>
<text x="45.27" y="375.30" font-size="10.60" textLength="13.52" lengthAdjust="spacingAndGlyphs" fill="#231f20" stroke="#231f20" stroke-width="0.25">1.5</text>
<line x1="63.3" y1="350.6" x2="67.4" y2="350.6" stroke="#231f20" stroke-width="1.25"/>
<text x="45.52" y="354.30" font-size="10.60" textLength="13.23" lengthAdjust="spacingAndGlyphs" fill="#231f20" stroke="#231f20" stroke-width="0.25">2.0</text>
<line x1="63.3" y1="329.6" x2="67.4" y2="329.6" stroke="#231f20" stroke-width="1.25"/>
<text x="45.52" y="333.30" font-size="10.60" textLength="13.26" lengthAdjust="spacingAndGlyphs" fill="#231f20" stroke="#231f20" stroke-width="0.25">2.5</text>
<rect x="77.2" y="392.8" width="38.9" height="41.8" fill="#9f3444"/>
<line x1="96.6" y1="387.6" x2="96.6" y2="392.8" stroke="#231f20" stroke-width="1.35"/>
<line x1="86.8" y1="387.6" x2="106.39999999999999" y2="387.6" stroke="#231f20" stroke-width="1.35"/>
<line x1="96.6" y1="434.6" x2="96.6" y2="438" stroke="#231f20" stroke-width="1.25"/>
<rect x="135.5" y="375.0" width="38.8" height="59.6" fill="#9f3444"/>
<line x1="155.0" y1="368.2" x2="155.0" y2="375.0" stroke="#231f20" stroke-width="1.35"/>
<line x1="145.2" y1="368.2" x2="164.8" y2="368.2" stroke="#231f20" stroke-width="1.35"/>
<line x1="155.0" y1="434.6" x2="155.0" y2="438" stroke="#231f20" stroke-width="1.25"/>
<rect x="193.7" y="331.2" width="38.8" height="103.4" fill="#9f3444"/>
<line x1="213.1" y1="325.0" x2="213.1" y2="331.2" stroke="#231f20" stroke-width="1.35"/>
<line x1="203.29999999999998" y1="325.0" x2="222.9" y2="325.0" stroke="#231f20" stroke-width="1.35"/>
<line x1="213.1" y1="434.6" x2="213.1" y2="438" stroke="#231f20" stroke-width="1.25"/>
<path d="M96.4,343.2 V293.6 H212.9 V303.8" fill="none" stroke="#2b2b2b" stroke-width="1.25"/>
<path d="M157.9,362.6 V313.2 H212.9 V320.5" fill="none" stroke="#2b2b2b" stroke-width="1.25"/>
<path d="M96.4,379.6 V353.8 H151.4 V362.6" fill="none" stroke="#2b2b2b" stroke-width="1.25"/>
<text x="154.6" y="293.8" font-size="10" text-anchor="middle" fill="#231f20" stroke="#231f20" stroke-width="0.2">**</text>
<text x="185.4" y="313.3" font-size="10" text-anchor="middle" fill="#231f20" stroke="#231f20" stroke-width="0.2">**</text>
<text x="123.9" y="353.6" font-size="10" text-anchor="middle" fill="#231f20" stroke="#231f20" stroke-width="0.2">*</text>
<text x="81.09" y="451.60" font-size="10.70" textLength="30.75" lengthAdjust="spacingAndGlyphs" fill="#231f20" stroke="#231f20" stroke-width="0.25">U2932</text>
<text x="83.63" y="464.20" font-size="10.70" textLength="25.06" lengthAdjust="spacingAndGlyphs" fill="#231f20" stroke="#231f20" stroke-width="0.25">Mock</text>
<text x="139.07" y="451.60" font-size="10.70" textLength="31.38" lengthAdjust="spacingAndGlyphs" fill="#231f20" stroke="#231f20" stroke-width="0.25">U2932</text>
<text x="140.77" y="464.20" font-size="10.70" textLength="27.26" lengthAdjust="spacingAndGlyphs" fill="#231f20" stroke="#231f20" stroke-width="0.25">HGAL</text>
<text x="183.34" y="451.60" font-size="10.70" textLength="58.59" lengthAdjust="spacingAndGlyphs" fill="#231f20" stroke="#231f20" stroke-width="0.25">U2932 HGAL</text>
<text x="200.32" y="464.20" font-size="10.70" textLength="24.88" lengthAdjust="spacingAndGlyphs" fill="#231f20" stroke="#231f20" stroke-width="0.25">(FEN)</text>
<text x="266.31" y="24.00" font-size="16.80" textLength="9.64" lengthAdjust="spacingAndGlyphs" fill="#231f20" stroke="#231f20" stroke-width="0.25">B</text>
<text transform="translate(355.20,97.55) rotate(-90)" x="0" y="0" font-size="10.20" textLength="54.14" lengthAdjust="spacingAndGlyphs" fill="#231f20" stroke="#231f20" stroke-width="0.08">U2932 Mock</text>
<text transform="translate(375.60,97.51) rotate(-90)" x="0" y="0" font-size="10.20" textLength="54.41" lengthAdjust="spacingAndGlyphs" fill="#231f20" stroke="#231f20" stroke-width="0.08">U2932 HGAL</text>
<text transform="translate(396.20,97.50) rotate(-90)" x="0" y="0" font-size="10.20" textLength="77.68" lengthAdjust="spacingAndGlyphs" fill="#231f20" stroke="#231f20" stroke-width="0.08">U2932 HGAL(FEN)</text>
<text transform="translate(417.00,97.55) rotate(-90)" x="0" y="0" font-size="10.20" textLength="54.14" lengthAdjust="spacingAndGlyphs" fill="#231f20" stroke="#231f20" stroke-width="0.08">U2932 Mock</text>
<text transform="translate(437.50,97.51) rotate(-90)" x="0" y="0" font-size="10.20" textLength="54.41" lengthAdjust="spacingAndGlyphs" fill="#231f20" stroke="#231f20" stroke-width="0.08">U2932 HGAL</text>
<text transform="translate(458.00,97.50) rotate(-90)" x="0" y="0" font-size="10.20" textLength="77.68" lengthAdjust="spacingAndGlyphs" fill="#231f20" stroke="#231f20" stroke-width="0.08">U2932 HGAL(FEN)</text>
<text x="274.60" y="109.90" font-size="10.20" textLength="51.70" lengthAdjust="spacingAndGlyphs" fill="#231f20" stroke="#231f20" stroke-width="0.25">α-IgM F(ab′)</text>
<text x="326.12" y="112.60" font-size="7.00" textLength="5.38" lengthAdjust="spacingAndGlyphs" fill="#231f20" stroke="#231f20" stroke-width="0.25">2</text>
<text x="349.75" y="109.40" font-size="9.60" textLength="6.75" lengthAdjust="spacingAndGlyphs" fill="#231f20" stroke="#231f20" stroke-width="0.25">2′</text>
<text x="369.32" y="109.40" font-size="9.60" textLength="7.08" lengthAdjust="spacingAndGlyphs" fill="#231f20" stroke="#231f20" stroke-width="0.25">2′</text>
<text x="389.34" y="109.40" font-size="9.60" textLength="6.86" lengthAdjust="spacingAndGlyphs" fill="#231f20" stroke="#231f20" stroke-width="0.25">2′</text>
<text x="407.75" y="109.40" font-size="9.60" textLength="11.22" lengthAdjust="spacingAndGlyphs" fill="#231f20" stroke="#231f20" stroke-width="0.25">10′</text>
<text x="427.86" y="109.40" font-size="9.60" textLength="11.11" lengthAdjust="spacingAndGlyphs" fill="#231f20" stroke="#231f20" stroke-width="0.25">10′</text>
<text x="447.75" y="109.40" font-size="9.60" textLength="11.22" lengthAdjust="spacingAndGlyphs" fill="#231f20" stroke="#231f20" stroke-width="0.25">10′</text>
<defs><filter id="b1" x="-30%" y="-150%" width="160%" height="400%" color-interpolation-filters="sRGB"><feGaussianBlur stdDeviation="1.0"/></filter><filter id="b2" x="-30%" y="-150%" width="160%" height="400%" color-interpolation-filters="sRGB"><feGaussianBlur stdDeviation="1.3"/></filter><filter id="b3" x="-30%" y="-150%" width="160%" height="400%" color-interpolation-filters="sRGB"><feGaussianBlur stdDeviation="2.4"/></filter></defs>
<rect x="337.0" y="114.5" width="128.7" height="20.1" fill="#979594"/>
<text x="276.09" y="127.90" font-size="10.10" textLength="56.70" lengthAdjust="spacingAndGlyphs" fill="#231f20" stroke="#231f20" stroke-width="0.25">pSyk (pY352)</text>
<line x1="465.7" y1="123.1" x2="471.9" y2="123.1" stroke="#231f20" stroke-width="1.25"/>
<text x="475.82" y="126.60" font-size="9.60" textLength="28.99" lengthAdjust="spacingAndGlyphs" fill="#231f20" stroke="#231f20" stroke-width="0.25">72 kDa</text>
<text x="347.08" y="144.90" font-size="8.80" textLength="11.54" lengthAdjust="spacingAndGlyphs" fill="#231f20">1.0</text>
<text x="367.30" y="144.90" font-size="8.80" textLength="11.21" lengthAdjust="spacingAndGlyphs" fill="#231f20">3.0</text>
<text x="387.28" y="144.90" font-size="8.80" textLength="11.23" lengthAdjust="spacingAndGlyphs" fill="#231f20">5.0</text>
<text x="406.98" y="144.90" font-size="8.80" textLength="11.54" lengthAdjust="spacingAndGlyphs" fill="#231f20">1.0</text>
<text x="428.21" y="144.90" font-size="8.80" textLength="9.48" lengthAdjust="spacingAndGlyphs" fill="#231f20">10</text>
<text x="448.31" y="144.90" font-size="8.80" textLength="9.53" lengthAdjust="spacingAndGlyphs" fill="#231f20">16</text>
<rect x="337.0" y="148.2" width="128.7" height="20.1" fill="#979594"/>
<text x="316.79" y="161.90" font-size="10.10" textLength="15.31" lengthAdjust="spacingAndGlyphs" fill="#231f20" stroke="#231f20" stroke-width="0.25">Syk</text>
<line x1="465.7" y1="158.1" x2="471.9" y2="158.1" stroke="#231f20" stroke-width="1.25"/>
<text x="475.82" y="161.60" font-size="9.60" textLength="28.99" lengthAdjust="spacingAndGlyphs" fill="#231f20" stroke="#231f20" stroke-width="0.25">72 kDa</text>
<rect x="337.0" y="171.5" width="128.7" height="19.6" fill="#979594"/>
<text x="273.30" y="184.70" font-size="10.10" textLength="59.38" lengthAdjust="spacingAndGlyphs" fill="#231f20" stroke="#231f20" stroke-width="0.25">pBLNK (pY84)</text>
<line x1="465.7" y1="175.0" x2="471.9" y2="175.0" stroke="#231f20" stroke-width="1.25"/>
<text x="475.82" y="178.50" font-size="9.60" textLength="28.99" lengthAdjust="spacingAndGlyphs" fill="#231f20" stroke="#231f20" stroke-width="0.25">72 kDa</text>
<text x="347.08" y="200.40" font-size="8.80" textLength="11.54" lengthAdjust="spacingAndGlyphs" fill="#231f20">1.0</text>
<text x="367.19" y="200.40" font-size="8.80" textLength="11.31" lengthAdjust="spacingAndGlyphs" fill="#231f20">2.0</text>
<text x="387.30" y="200.40" font-size="8.80" textLength="11.21" lengthAdjust="spacingAndGlyphs" fill="#231f20">3.0</text>
<text x="407.28" y="200.40" font-size="8.80" textLength="11.23" lengthAdjust="spacingAndGlyphs" fill="#231f20">5.0</text>
<text x="428.21" y="200.40" font-size="8.80" textLength="9.48" lengthAdjust="spacingAndGlyphs" fill="#231f20">10</text>
<text x="448.31" y="200.40" font-size="8.80" textLength="9.53" lengthAdjust="spacingAndGlyphs" fill="#231f20">16</text>
<rect x="337.0" y="204.2" width="128.7" height="20.0" fill="#979594"/>
<text x="308.95" y="217.30" font-size="10.10" textLength="23.66" lengthAdjust="spacingAndGlyphs" fill="#231f20" stroke="#231f20" stroke-width="0.25">BLNK</text>
<line x1="465.7" y1="209.4" x2="471.9" y2="209.4" stroke="#231f20" stroke-width="1.25"/>
<text x="475.82" y="212.90" font-size="9.60" textLength="28.99" lengthAdjust="spacingAndGlyphs" fill="#231f20" stroke="#231f20" stroke-width="0.25">72 kDa</text>
<rect x="337.0" y="227.2" width="128.7" height="19.4" fill="#979594"/>
<text x="277.18" y="241.00" font-size="10.10" textLength="55.53" lengthAdjust="spacingAndGlyphs" fill="#231f20" stroke="#231f20" stroke-width="0.25">pBtk (pY551)</text>
<line x1="465.7" y1="232.4" x2="471.9" y2="232.4" stroke="#231f20" stroke-width="1.25"/>
<text x="475.82" y="235.90" font-size="9.60" textLength="28.99" lengthAdjust="spacingAndGlyphs" fill="#231f20" stroke="#231f20" stroke-width="0.25">72 kDa</text>
<text x="347.08" y="257.80" font-size="8.80" textLength="11.54" lengthAdjust="spacingAndGlyphs" fill="#231f20">1.0</text>
<text x="366.97" y="257.80" font-size="8.80" textLength="11.65" lengthAdjust="spacingAndGlyphs" fill="#231f20">1.7</text>
<text x="387.19" y="257.80" font-size="8.80" textLength="11.34" lengthAdjust="spacingAndGlyphs" fill="#231f20">2.5</text>
<text x="407.28" y="257.80" font-size="8.80" textLength="11.25" lengthAdjust="spacingAndGlyphs" fill="#231f20">0.5</text>
<text x="427.48" y="257.80" font-size="8.80" textLength="11.25" lengthAdjust="spacingAndGlyphs" fill="#231f20">0.5</text>
<text x="447.49" y="257.80" font-size="8.80" textLength="11.36" lengthAdjust="spacingAndGlyphs" fill="#231f20">2.3</text>
<rect x="337.0" y="262.3" width="128.7" height="19.6" fill="#979594"/>
<text x="318.11" y="274.75" font-size="10.10" textLength="13.89" lengthAdjust="spacingAndGlyphs" fill="#231f20" stroke="#231f20" stroke-width="0.25">Btk</text>
<line x1="465.7" y1="269.8" x2="471.9" y2="269.8" stroke="#231f20" stroke-width="1.25"/>
<text x="475.82" y="273.30" font-size="9.60" textLength="28.99" lengthAdjust="spacingAndGlyphs" fill="#231f20" stroke="#231f20" stroke-width="0.25">72 kDa</text>
<rect x="337.0" y="284.7" width="128.7" height="19.9" fill="#979594"/>
<text x="300.22" y="298.20" font-size="10.10" textLength="31.83" lengthAdjust="spacingAndGlyphs" fill="#231f20" stroke="#231f20" stroke-width="0.25">pPLCγ2</text>
<line x1="465.7" y1="294.4" x2="471.9" y2="294.4" stroke="#231f20" stroke-width="1.25"/>
<text x="475.62" y="297.90" font-size="9.60" textLength="34.01" lengthAdjust="spacingAndGlyphs" fill="#231f20" stroke="#231f20" stroke-width="0.25">140 kDa</text>
<text x="347.08" y="316.70" font-size="8.80" textLength="11.54" lengthAdjust="spacingAndGlyphs" fill="#231f20">1.0</text>
<text x="367.19" y="316.70" font-size="8.80" textLength="11.31" lengthAdjust="spacingAndGlyphs" fill="#231f20">2.0</text>
<text x="387.19" y="316.70" font-size="8.80" textLength="11.31" lengthAdjust="spacingAndGlyphs" fill="#231f20">2.0</text>
<text x="407.27" y="316.70" font-size="8.80" textLength="11.34" lengthAdjust="spacingAndGlyphs" fill="#231f20">0.7</text>
<text x="427.48" y="316.70" font-size="8.80" textLength="11.25" lengthAdjust="spacingAndGlyphs" fill="#231f20">5.5</text>
<text x="447.56" y="316.70" font-size="8.80" textLength="11.27" lengthAdjust="spacingAndGlyphs" fill="#231f20">8.5</text>
<rect x="337.0" y="320.4" width="128.7" height="20.2" fill="#979594"/>
<text x="305.88" y="333.20" font-size="10.10" textLength="26.17" lengthAdjust="spacingAndGlyphs" fill="#231f20" stroke="#231f20" stroke-width="0.25">PLCγ2</text>
<line x1="465.7" y1="325.8" x2="471.9" y2="325.8" stroke="#231f20" stroke-width="1.25"/>
<text x="475.62" y="329.30" font-size="9.60" textLength="34.01" lengthAdjust="spacingAndGlyphs" fill="#231f20" stroke="#231f20" stroke-width="0.25">140 kDa</text>
<rect x="337.0" y="343.5" width="128.7" height="20.1" fill="#979594"/>
<text x="309.60" y="356.10" font-size="10.10" textLength="22.62" lengthAdjust="spacingAndGlyphs" fill="#231f20" stroke="#231f20" stroke-width="0.25">pJNK</text>
<line x1="465.7" y1="350.8" x2="471.9" y2="350.8" stroke="#231f20" stroke-width="1.25"/>
<text x="475.94" y="354.30" font-size="9.60" textLength="28.87" lengthAdjust="spacingAndGlyphs" fill="#231f20" stroke="#231f20" stroke-width="0.25">57 kDa</text>
<text x="347.08" y="374.20" font-size="8.80" textLength="11.54" lengthAdjust="spacingAndGlyphs" fill="#231f20">1.0</text>
<text x="366.98" y="374.20" font-size="8.80" textLength="11.54" lengthAdjust="spacingAndGlyphs" fill="#231f20">1.0</text>
<text x="386.98" y="374.20" font-size="8.80" textLength="11.54" lengthAdjust="spacingAndGlyphs" fill="#231f20">1.0</text>
<text x="406.98" y="374.20" font-size="8.80" textLength="11.54" lengthAdjust="spacingAndGlyphs" fill="#231f20">1.0</text>
<text x="427.18" y="374.20" font-size="8.80" textLength="11.54" lengthAdjust="spacingAndGlyphs" fill="#231f20">1.0</text>
<text x="447.28" y="374.20" font-size="8.80" textLength="11.54" lengthAdjust="spacingAndGlyphs" fill="#231f20">1.0</text>
<rect x="337.0" y="378.1" width="128.7" height="19.6" fill="#979594"/>
<text x="316.17" y="390.80" font-size="10.10" textLength="16.63" lengthAdjust="spacingAndGlyphs" fill="#231f20" stroke="#231f20" stroke-width="0.25">JNK</text>
<line x1="465.7" y1="388.9" x2="471.9" y2="388.9" stroke="#231f20" stroke-width="1.25"/>
<text x="475.94" y="392.40" font-size="9.60" textLength="28.87" lengthAdjust="spacingAndGlyphs" fill="#231f20" stroke="#231f20" stroke-width="0.25">57 kDa</text>
<rect x="337.0" y="401.1" width="128.7" height="19.6" fill="#979594"/>
<text x="310.08" y="414.10" font-size="10.10" textLength="22.44" lengthAdjust="spacingAndGlyphs" fill="#231f20" stroke="#231f20" stroke-width="0.25">pP38</text>
<line x1="465.7" y1="406.0" x2="471.9" y2="406.0" stroke="#231f20" stroke-width="1.25"/>
<text x="475.96" y="409.50" font-size="9.60" textLength="28.85" lengthAdjust="spacingAndGlyphs" fill="#231f20" stroke="#231f20" stroke-width="0.25">38 kDa</text>
<text x="347.08" y="432.00" font-size="8.80" textLength="11.54" lengthAdjust="spacingAndGlyphs" fill="#231f20">1.0</text>
<text x="367.19" y="432.00" font-size="8.80" textLength="11.36" lengthAdjust="spacingAndGlyphs" fill="#231f20">2.3</text>
<text x="387.19" y="432.00" font-size="8.80" textLength="11.36" lengthAdjust="spacingAndGlyphs" fill="#231f20">2.3</text>
<text x="406.98" y="432.00" font-size="8.80" textLength="11.54" lengthAdjust="spacingAndGlyphs" fill="#231f20">1.0</text>
<text x="427.39" y="432.00" font-size="8.80" textLength="11.36" lengthAdjust="spacingAndGlyphs" fill="#231f20">2.3</text>
<text x="447.49" y="432.00" font-size="8.80" textLength="11.36" lengthAdjust="spacingAndGlyphs" fill="#231f20">2.3</text>
<rect x="337.0" y="436.2" width="128.7" height="19.4" fill="#979594"/>
<text x="316.04" y="448.50" font-size="10.10" textLength="16.47" lengthAdjust="spacingAndGlyphs" fill="#231f20" stroke="#231f20" stroke-width="0.25">P38</text>
<line x1="465.7" y1="439.8" x2="471.9" y2="439.8" stroke="#231f20" stroke-width="1.25"/>
<text x="475.96" y="443.30" font-size="9.60" textLength="28.85" lengthAdjust="spacingAndGlyphs" fill="#231f20" stroke="#231f20" stroke-width="0.25">38 kDa</text>
<rect x="337.0" y="458.8" width="128.7" height="19.8" fill="#979594"/>
<text x="310.14" y="471.80" font-size="10.10" textLength="22.67" lengthAdjust="spacingAndGlyphs" fill="#231f20" stroke="#231f20" stroke-width="0.25">pERK</text>
<line x1="465.7" y1="464.4" x2="471.9" y2="464.4" stroke="#231f20" stroke-width="1.25"/>
<text x="476.10" y="467.90" font-size="9.60" textLength="28.71" lengthAdjust="spacingAndGlyphs" fill="#231f20" stroke="#231f20" stroke-width="0.25">42 kDa</text>
<text x="347.08" y="488.80" font-size="8.80" textLength="11.54" lengthAdjust="spacingAndGlyphs" fill="#231f20">1.0</text>
<text x="367.30" y="488.80" font-size="8.80" textLength="11.25" lengthAdjust="spacingAndGlyphs" fill="#231f20">3.3</text>
<text x="387.30" y="488.80" font-size="8.80" textLength="11.25" lengthAdjust="spacingAndGlyphs" fill="#231f20">3.3</text>
<text x="406.98" y="488.80" font-size="8.80" textLength="11.54" lengthAdjust="spacingAndGlyphs" fill="#231f20">1.0</text>
<text x="427.48" y="488.80" font-size="8.80" textLength="11.25" lengthAdjust="spacingAndGlyphs" fill="#231f20">5.5</text>
<text x="447.58" y="488.80" font-size="8.80" textLength="11.25" lengthAdjust="spacingAndGlyphs" fill="#231f20">5.5</text>
<rect x="337.0" y="492.7" width="128.7" height="19.3" fill="#979594"/>
<text x="315.61" y="505.80" font-size="10.10" textLength="17.18" lengthAdjust="spacingAndGlyphs" fill="#231f20" stroke="#231f20" stroke-width="0.25">ERK</text>
<line x1="465.7" y1="500.5" x2="471.9" y2="500.5" stroke="#231f20" stroke-width="1.25"/>
<text x="476.10" y="504.00" font-size="9.60" textLength="28.71" lengthAdjust="spacingAndGlyphs" fill="#231f20" stroke="#231f20" stroke-width="0.25">42 kDa</text>
<rect x="337.0" y="515.7" width="128.7" height="18.9" fill="#979594"/>
<text x="306.94" y="527.90" font-size="10.10" textLength="25.06" lengthAdjust="spacingAndGlyphs" fill="#231f20" stroke="#231f20" stroke-width="0.25">HGAL</text>
<line x1="465.7" y1="521.9" x2="471.9" y2="521.9" stroke="#231f20" stroke-width="1.25"/>
<text x="475.94" y="525.40" font-size="9.60" textLength="28.87" lengthAdjust="spacingAndGlyphs" fill="#231f20" stroke="#231f20" stroke-width="0.25">50 kDa</text>
<rect x="337.0" y="538.1" width="128.7" height="19.8" fill="#979594"/>
<text x="310.38" y="550.00" font-size="10.10" textLength="21.97" lengthAdjust="spacingAndGlyphs" fill="#231f20" stroke="#231f20" stroke-width="0.25">Actin</text>
<line x1="465.7" y1="543.5" x2="471.9" y2="543.5" stroke="#231f20" stroke-width="1.25"/>
<text x="476.10" y="547.00" font-size="9.60" textLength="28.71" lengthAdjust="spacingAndGlyphs" fill="#231f20" stroke="#231f20" stroke-width="0.25">42 kDa</text>
<clipPath id="c0"><rect x="337.0" y="114.5" width="128.7" height="20.1"/></clipPath>
<g clip-path="url(#c0)"><rect x="337.0" y="114.5" width="128.7" height="1.2" fill="#000" fill-opacity="0.08"/><rect x="337.0" y="114.5" width="1" height="20.1" fill="#000" fill-opacity="0.08"/><rect x="362.5" y="123.5" width="16.3" height="1.4" rx="0.7" fill="#272525" fill-opacity="0.16" filter="url(#b1)"/><rect x="362.5" y="126.5" width="16.3" height="1.0" rx="0.5" fill="#272525" fill-opacity="0.08" filter="url(#b1)"/><rect x="383.4" y="123.6" width="15.6" height="1.6" rx="0.8" fill="#272525" fill-opacity="0.28" filter="url(#b1)"/><rect x="383.4" y="126.5" width="15.6" height="1.0" rx="0.5" fill="#272525" fill-opacity="0.10" filter="url(#b1)"/><path d="M422.2,123.5 L439.2,124.3 L439.2,126.2 L422.2,126.9Z" fill="#272525" fill-opacity="0.82" filter="url(#b1)"/><rect x="443.2" y="123.5" width="18.0" height="3.4" rx="1.7" fill="#272525" fill-opacity="0.90" filter="url(#b1)"/></g>
<clipPath id="c1"><rect x="337.0" y="148.2" width="128.7" height="20.1"/></clipPath>
<g clip-path="url(#c1)"><rect x="337.0" y="148.2" width="128.7" height="1.2" fill="#000" fill-opacity="0.08"/><rect x="337.0" y="148.2" width="1" height="20.1" fill="#000" fill-opacity="0.08"/><path d="M350.0,157.0 L354.5,149.0 L358.0,157.0Z" fill="#272525" fill-opacity="0.16" filter="url(#b2)"/><path d="M364.0,157.0 L368.0,150.0 L373.0,157.0Z" fill="#272525" fill-opacity="0.14" filter="url(#b2)"/><rect x="383.0" y="148.0" width="16.0" height="9.0" rx="1.0" fill="#272525" fill-opacity="0.34" filter="url(#b2)"/><rect x="424.8" y="147.5" width="14.4" height="9.0" rx="1.0" fill="#272525" fill-opacity="0.40" filter="url(#b2)"/><rect x="340.0" y="156.8" width="19.8" height="5.0" rx="2.5" fill="#272525" fill-opacity="0.80" filter="url(#b2)"/><rect x="361.8" y="156.8" width="19.6" height="5.0" rx="2.5" fill="#272525" fill-opacity="0.80" filter="url(#b2)"/><rect x="382.3" y="156.3" width="36.0" height="5.2" rx="2.5" fill="#272525" fill-opacity="0.80" filter="url(#b2)"/><rect x="419.6" y="155.4" width="21.6" height="5.2" rx="2.5" fill="#272525" fill-opacity="0.80" filter="url(#b2)"/><rect x="443.8" y="155.0" width="19.0" height="4.0" rx="2.0" fill="#272525" fill-opacity="0.80" filter="url(#b2)"/></g>
<clipPath id="c2"><rect x="337.0" y="171.5" width="128.7" height="19.6"/></clipPath>
<g clip-path="url(#c2)"><rect x="337.0" y="171.5" width="128.7" height="1.2" fill="#000" fill-opacity="0.08"/><rect x="337.0" y="171.5" width="1" height="19.6" fill="#000" fill-opacity="0.08"/><rect x="340.0" y="179.7" width="17.0" height="1.2" rx="0.6" fill="#272525" fill-opacity="0.16" filter="url(#b1)"/><rect x="358.0" y="179.2" width="6.0" height="1.8" rx="0.9" fill="#272525" fill-opacity="0.38" filter="url(#b1)"/><rect x="366.0" y="179.2" width="13.0" height="1.5" rx="0.8" fill="#272525" fill-opacity="0.22" filter="url(#b1)"/><rect x="380.0" y="178.3" width="19.0" height="2.6" rx="1.3" fill="#272525" fill-opacity="0.45" filter="url(#b1)"/><path d="M399.0,178.3 L421.0,177.0 L421.0,182.2 L399.0,181.2Z" fill="#272525" fill-opacity="0.58" filter="url(#b2)"/><path d="M420.0,176.5 L442.0,175.4 L442.0,183.0 L420.0,182.4Z" fill="#272525" fill-opacity="0.78" filter="url(#b2)"/><path d="M441.0,175.2 L458.0,174.3 L463.0,175.5 L463.0,181.2 L458.0,182.2 L441.0,183.0Z" fill="#272525" fill-opacity="0.84" filter="url(#b2)"/></g>
<clipPath id="c3"><rect x="337.0" y="204.2" width="128.7" height="20.0"/></clipPath>
<g clip-path="url(#c3)"><rect x="337.0" y="204.2" width="128.7" height="1.2" fill="#000" fill-opacity="0.08"/><rect x="337.0" y="204.2" width="1" height="20.0" fill="#000" fill-opacity="0.08"/><rect x="338.0" y="210.6" width="18.0" height="5.4" rx="2.5" fill="#272525" fill-opacity="0.80" filter="url(#b2)"/><rect x="359.3" y="210.6" width="18.7" height="5.4" rx="2.5" fill="#272525" fill-opacity="0.80" filter="url(#b2)"/><rect x="380.5" y="210.6" width="19.0" height="5.4" rx="2.5" fill="#272525" fill-opacity="0.80" filter="url(#b2)"/><rect x="402.0" y="210.6" width="18.7" height="5.4" rx="2.5" fill="#272525" fill-opacity="0.80" filter="url(#b2)"/><rect x="423.2" y="210.6" width="17.8" height="5.4" rx="2.5" fill="#272525" fill-opacity="0.80" filter="url(#b2)"/><path d="M443.7,211.0 L462.9,209.6 L462.9,215.0 L443.7,215.8Z" fill="#272525" fill-opacity="0.80" filter="url(#b2)"/></g>
<clipPath id="c4"><rect x="337.0" y="227.2" width="128.7" height="19.4"/></clipPath>
<g clip-path="url(#c4)"><rect x="337.0" y="227.2" width="128.7" height="1.2" fill="#000" fill-opacity="0.08"/><rect x="337.0" y="227.2" width="1" height="19.4" fill="#000" fill-opacity="0.08"/><rect x="338.0" y="236.1" width="18.0" height="3.6" rx="1.8" fill="#272525" fill-opacity="0.50" filter="url(#b2)"/><rect x="360.0" y="235.6" width="18.0" height="4.6" rx="2.3" fill="#272525" fill-opacity="0.60" filter="url(#b2)"/><rect x="381.0" y="234.9" width="18.0" height="6.0" rx="2.5" fill="#272525" fill-opacity="0.72" filter="url(#b2)"/><rect x="402.0" y="235.9" width="16.0" height="4.0" rx="2.0" fill="#272525" fill-opacity="0.20" filter="url(#b2)"/><rect x="423.0" y="235.9" width="17.0" height="4.0" rx="2.0" fill="#272525" fill-opacity="0.20" filter="url(#b2)"/><rect x="444.0" y="234.9" width="18.0" height="6.0" rx="2.5" fill="#272525" fill-opacity="0.66" filter="url(#b2)"/></g>
<clipPath id="c5"><rect x="337.0" y="262.3" width="128.7" height="19.6"/></clipPath>
<g clip-path="url(#c5)"><rect x="337.0" y="262.3" width="128.7" height="1.2" fill="#000" fill-opacity="0.08"/><rect x="337.0" y="262.3" width="1" height="19.6" fill="#000" fill-opacity="0.08"/><path d="M338.0,269.8 L339.5,270.6 L341.0,270.2 L342.5,269.9 L344.0,270.6 L345.5,270.0 L347.0,270.1 L348.5,271.1 L350.0,271.6 L351.5,271.3 L353.0,270.7 L354.5,271.4 L356.0,271.1 L357.5,271.0 L359.0,271.7 L360.5,271.9 L362.0,271.9 L363.5,271.8 L365.0,272.5 L366.5,272.3 L368.0,271.5 L369.5,271.5 L371.0,272.1 L372.5,272.2 L374.0,272.4 L375.5,271.0 L377.0,272.3 L378.5,272.3 L380.0,271.0 L381.5,272.0 L383.0,271.0 L384.5,272.2 L386.0,271.0 L387.5,271.0 L389.0,271.9 L390.5,271.6 L392.0,271.1 L393.5,271.0 L395.0,270.9 L396.5,271.0 L398.0,272.1 L399.5,271.1 L401.0,270.8 L402.5,271.6 L404.0,270.4 L405.5,270.4 L407.0,271.0 L408.5,270.2 L410.0,269.7 L411.5,269.8 L413.0,269.8 L414.5,270.5 L416.0,269.8 L417.5,269.1 L419.0,270.0 L420.5,268.9 L422.0,269.4 L423.5,268.5 L425.0,269.3 L426.5,268.5 L428.0,267.8 L429.5,267.9 L431.0,267.7 L432.5,268.1 L434.0,267.3 L435.5,267.0 L437.0,267.5 L438.5,267.4 L440.0,267.7 L441.5,266.2 L443.0,266.6 L444.5,266.1 L446.0,266.4 L447.5,265.9 L449.0,266.6 L450.5,266.0 L452.0,265.0 L453.5,264.7 L455.0,265.4 L456.5,264.3 L458.0,264.7 L459.5,264.3 L461.0,263.7 L461.0,267.2 L459.5,268.0 L458.0,267.9 L456.5,267.9 L455.0,268.6 L453.5,268.7 L452.0,267.7 L450.5,268.6 L449.0,268.9 L447.5,269.5 L446.0,268.6 L444.5,269.1 L443.0,268.9 L441.5,269.4 L440.0,269.5 L438.5,269.7 L437.0,270.7 L435.5,270.0 L434.0,270.9 L432.5,270.4 L431.0,271.3 L429.5,271.3 L428.0,271.9 L426.5,270.8 L425.0,271.7 L423.5,272.4 L422.0,272.5 L420.5,271.6 L419.0,272.7 L417.5,271.9 L416.0,273.0 L414.5,272.7 L413.0,272.8 L411.5,273.1 L410.0,273.2 L408.5,272.7 L407.0,273.2 L405.5,273.2 L404.0,274.4 L402.5,274.1 L401.0,273.9 L399.5,274.7 L398.0,274.6 L396.5,273.9 L395.0,274.1 L393.5,274.5 L392.0,274.6 L390.5,274.2 L389.0,273.9 L387.5,273.7 L386.0,274.0 L384.5,274.8 L383.0,274.2 L381.5,274.1 L380.0,274.6 L378.5,274.3 L377.0,274.4 L375.5,274.1 L374.0,275.0 L372.5,274.4 L371.0,274.4 L369.5,274.0 L368.0,274.2 L366.5,274.9 L365.0,275.3 L363.5,274.4 L362.0,274.9 L360.5,274.9 L359.0,275.0 L357.5,274.4 L356.0,273.9 L354.5,273.5 L353.0,273.3 L351.5,274.1 L350.0,274.4 L348.5,273.0 L347.0,273.9 L345.5,273.1 L344.0,273.6 L342.5,273.1 L341.0,273.1 L339.5,272.8 L338.0,272.8Z" fill="#272525" fill-opacity="0.95" filter="url(#b1)"/></g>
<clipPath id="c6"><rect x="337.0" y="284.7" width="128.7" height="19.9"/></clipPath>
<g clip-path="url(#c6)"><rect x="337.0" y="284.7" width="128.7" height="1.2" fill="#000" fill-opacity="0.08"/><rect x="337.0" y="284.7" width="1" height="19.9" fill="#000" fill-opacity="0.08"/><rect x="338.0" y="294.6" width="17.0" height="3.6" rx="1.8" fill="#272525" fill-opacity="0.45" filter="url(#b2)"/><rect x="359.0" y="294.1" width="18.0" height="4.6" rx="2.3" fill="#272525" fill-opacity="0.60" filter="url(#b2)"/><rect x="380.0" y="294.2" width="18.0" height="4.4" rx="2.2" fill="#272525" fill-opacity="0.55" filter="url(#b2)"/><rect x="401.3" y="292.5" width="16.3" height="5.0" rx="2.5" fill="#272525" fill-opacity="0.20" filter="url(#b1)"/><rect x="401.3" y="295.2" width="16.3" height="2.2" rx="1.1" fill="#272525" fill-opacity="0.35" filter="url(#b1)"/><rect x="420.6" y="287.6" width="18.6" height="11.5" rx="3.5" fill="#272525" fill-opacity="0.45" filter="url(#b2)"/><rect x="421.6" y="291.5" width="16.6" height="7.0" rx="3.0" fill="#272525" fill-opacity="0.62" filter="url(#b2)"/><rect x="441.6" y="286.2" width="19.7" height="13.2" rx="4.0" fill="#272525" fill-opacity="0.50" filter="url(#b2)"/><rect x="442.6" y="290.1" width="17.7" height="8.5" rx="3.5" fill="#272525" fill-opacity="0.68" filter="url(#b2)"/></g>
<clipPath id="c7"><rect x="337.0" y="320.4" width="128.7" height="20.2"/></clipPath>
<g clip-path="url(#c7)"><rect x="337.0" y="320.4" width="128.7" height="1.2" fill="#000" fill-opacity="0.08"/><rect x="337.0" y="320.4" width="1" height="20.2" fill="#000" fill-opacity="0.08"/><rect x="337.0" y="334" width="128.7" height="7" fill="#fff" fill-opacity="0.06"/><rect x="356.5" y="320" width="2.5" height="21" fill="#fff" fill-opacity="0.1" filter="url(#b1)"/><path d="M338.0,320.0 L356.0,320.0 L355.0,327.0 L354.5,331.0 L356.0,336.0 L338.0,336.0 L339.5,331.0 L339.0,327.0Z" fill="#272525" fill-opacity="0.24" filter="url(#b1)"/><rect x="339.0" y="328.9" width="16.0" height="3.0" rx="1.5" fill="#272525" fill-opacity="0.40" filter="url(#b1)"/><rect x="338.0" y="327.1" width="5.0" height="5.0" rx="2.5" fill="#272525" fill-opacity="0.50" filter="url(#b1)"/><rect x="351.0" y="327.1" width="5.0" height="5.0" rx="2.5" fill="#272525" fill-opacity="0.50" filter="url(#b1)"/><rect x="338.0" y="320.0" width="3.0" height="8.0" rx="2.5" fill="#272525" fill-opacity="0.18" filter="url(#b2)"/><rect x="353.0" y="320.0" width="3.0" height="8.0" rx="2.5" fill="#272525" fill-opacity="0.18" filter="url(#b2)"/><rect x="378.5" y="320" width="2.5" height="21" fill="#fff" fill-opacity="0.1" filter="url(#b1)"/><path d="M360.0,320.0 L378.0,320.0 L377.0,327.0 L376.5,331.0 L378.0,336.0 L360.0,336.0 L361.5,331.0 L361.0,327.0Z" fill="#272525" fill-opacity="0.24" filter="url(#b1)"/><rect x="361.0" y="328.9" width="16.0" height="3.0" rx="1.5" fill="#272525" fill-opacity="0.40" filter="url(#b1)"/><rect x="360.0" y="327.1" width="5.0" height="5.0" rx="2.5" fill="#272525" fill-opacity="0.50" filter="url(#b1)"/><rect x="373.0" y="327.1" width="5.0" height="5.0" rx="2.5" fill="#272525" fill-opacity="0.50" filter="url(#b1)"/><rect x="360.0" y="320.0" width="3.0" height="8.0" rx="2.5" fill="#272525" fill-opacity="0.18" filter="url(#b2)"/><rect x="375.0" y="320.0" width="3.0" height="8.0" rx="2.5" fill="#272525" fill-opacity="0.18" filter="url(#b2)"/><rect x="399.5" y="320" width="2.5" height="21" fill="#fff" fill-opacity="0.1" filter="url(#b1)"/><path d="M382.0,320.0 L399.0,320.0 L398.0,327.0 L397.5,331.0 L399.0,336.0 L382.0,336.0 L383.5,331.0 L383.0,327.0Z" fill="#272525" fill-opacity="0.24" filter="url(#b1)"/><rect x="383.0" y="328.9" width="15.0" height="3.0" rx="1.5" fill="#272525" fill-opacity="0.40" filter="url(#b1)"/><rect x="382.0" y="327.1" width="5.0" height="5.0" rx="2.5" fill="#272525" fill-opacity="0.50" filter="url(#b1)"/><rect x="394.0" y="327.1" width="5.0" height="5.0" rx="2.5" fill="#272525" fill-opacity="0.50" filter="url(#b1)"/><rect x="382.0" y="320.0" width="3.0" height="8.0" rx="2.5" fill="#272525" fill-opacity="0.18" filter="url(#b2)"/><rect x="396.0" y="320.0" width="3.0" height="8.0" rx="2.5" fill="#272525" fill-opacity="0.18" filter="url(#b2)"/><rect x="418.5" y="320" width="2.5" height="21" fill="#fff" fill-opacity="0.1" filter="url(#b1)"/><path d="M402.0,320.0 L418.0,320.0 L417.0,327.0 L416.5,331.0 L418.0,336.0 L402.0,336.0 L403.5,331.0 L403.0,327.0Z" fill="#272525" fill-opacity="0.24" filter="url(#b1)"/><rect x="403.0" y="328.9" width="14.0" height="3.0" rx="1.5" fill="#272525" fill-opacity="0.40" filter="url(#b1)"/><rect x="402.0" y="327.1" width="5.0" height="5.0" rx="2.5" fill="#272525" fill-opacity="0.50" filter="url(#b1)"/><rect x="413.0" y="327.1" width="5.0" height="5.0" rx="2.5" fill="#272525" fill-opacity="0.50" filter="url(#b1)"/><rect x="402.0" y="320.0" width="3.0" height="8.0" rx="2.5" fill="#272525" fill-opacity="0.18" filter="url(#b2)"/><rect x="415.0" y="320.0" width="3.0" height="8.0" rx="2.5" fill="#272525" fill-opacity="0.18" filter="url(#b2)"/><rect x="440.5" y="320" width="2.5" height="21" fill="#fff" fill-opacity="0.1" filter="url(#b1)"/><path d="M424.0,320.0 L440.0,320.0 L439.0,327.0 L438.5,331.0 L440.0,336.0 L424.0,336.0 L425.5,331.0 L425.0,327.0Z" fill="#272525" fill-opacity="0.24" filter="url(#b1)"/><rect x="425.0" y="328.9" width="14.0" height="3.0" rx="1.5" fill="#272525" fill-opacity="0.40" filter="url(#b1)"/><rect x="424.0" y="327.1" width="5.0" height="5.0" rx="2.5" fill="#272525" fill-opacity="0.50" filter="url(#b1)"/><rect x="435.0" y="327.1" width="5.0" height="5.0" rx="2.5" fill="#272525" fill-opacity="0.50" filter="url(#b1)"/><rect x="424.0" y="320.0" width="3.0" height="8.0" rx="2.5" fill="#272525" fill-opacity="0.18" filter="url(#b2)"/><rect x="437.0" y="320.0" width="3.0" height="8.0" rx="2.5" fill="#272525" fill-opacity="0.18" filter="url(#b2)"/><rect x="462.5" y="320" width="2.5" height="21" fill="#fff" fill-opacity="0.1" filter="url(#b1)"/><path d="M445.0,320.0 L462.0,320.0 L461.0,327.0 L460.5,331.0 L462.0,336.0 L445.0,336.0 L446.5,331.0 L446.0,327.0Z" fill="#272525" fill-opacity="0.24" filter="url(#b1)"/><rect x="446.0" y="328.9" width="15.0" height="3.0" rx="1.5" fill="#272525" fill-opacity="0.40" filter="url(#b1)"/><rect x="445.0" y="327.1" width="5.0" height="5.0" rx="2.5" fill="#272525" fill-opacity="0.50" filter="url(#b1)"/><rect x="457.0" y="327.1" width="5.0" height="5.0" rx="2.5" fill="#272525" fill-opacity="0.50" filter="url(#b1)"/><rect x="445.0" y="320.0" width="3.0" height="8.0" rx="2.5" fill="#272525" fill-opacity="0.18" filter="url(#b2)"/><rect x="459.0" y="320.0" width="3.0" height="8.0" rx="2.5" fill="#272525" fill-opacity="0.18" filter="url(#b2)"/></g>
<clipPath id="c8"><rect x="337.0" y="343.5" width="128.7" height="20.1"/></clipPath>
<g clip-path="url(#c8)"><rect x="337.0" y="343.5" width="128.7" height="1.2" fill="#000" fill-opacity="0.08"/><rect x="337.0" y="343.5" width="1" height="20.1" fill="#000" fill-opacity="0.08"/><path d="M338.0,348.9 L339.5,349.0 L341.0,349.2 L342.5,349.0 L344.0,349.6 L345.5,349.4 L347.0,349.9 L348.5,349.8 L350.0,349.9 L351.5,349.7 L353.0,350.6 L354.5,350.5 L356.0,350.7 L357.5,350.6 L359.0,350.5 L360.5,350.7 L362.0,351.1 L363.5,351.3 L365.0,351.3 L366.5,351.0 L368.0,351.1 L369.5,351.0 L371.0,351.6 L372.5,351.3 L374.0,351.2 L375.5,351.2 L377.0,351.7 L378.5,351.8 L380.0,351.5 L381.5,351.2 L383.0,351.8 L384.5,351.7 L386.0,351.4 L387.5,351.6 L389.0,351.4 L390.5,351.8 L392.0,351.6 L393.5,352.1 L395.0,351.4 L396.5,352.1 L398.0,352.0 L399.5,351.7 L401.0,351.5 L402.5,351.8 L404.0,352.1 L405.5,351.5 L407.0,351.9 L408.5,351.9 L410.0,352.0 L411.5,351.9 L413.0,351.8 L414.5,351.4 L416.0,351.9 L417.5,351.6 L419.0,351.9 L420.5,351.8 L422.0,351.5 L423.5,351.9 L425.0,351.8 L426.5,351.1 L428.0,351.4 L429.5,351.1 L431.0,351.4 L432.5,351.3 L434.0,351.0 L435.5,351.0 L437.0,350.8 L438.5,350.4 L440.0,350.9 L441.5,350.4 L443.0,350.1 L444.5,350.4 L446.0,349.6 L447.5,349.9 L449.0,349.7 L450.5,349.8 L452.0,349.7 L453.5,349.1 L455.0,348.9 L456.5,349.0 L458.0,349.1 L459.5,349.1 L461.0,348.9 L462.5,348.2 L462.5,353.1 L461.0,352.8 L459.5,353.3 L458.0,353.6 L456.5,353.8 L455.0,353.4 L453.5,354.1 L452.0,353.7 L450.5,353.8 L449.0,353.9 L447.5,354.6 L446.0,354.5 L444.5,354.5 L443.0,355.1 L441.5,355.2 L440.0,355.5 L438.5,355.5 L437.0,355.4 L435.5,355.6 L434.0,355.2 L432.5,355.5 L431.0,355.8 L429.5,355.8 L428.0,356.1 L426.5,355.8 L425.0,356.1 L423.5,355.7 L422.0,356.4 L420.5,356.4 L419.0,356.3 L417.5,356.1 L416.0,356.0 L414.5,356.3 L413.0,356.0 L411.5,356.1 L410.0,356.7 L408.5,356.4 L407.0,356.3 L405.5,356.0 L404.0,356.1 L402.5,355.9 L401.0,356.0 L399.5,356.6 L398.0,356.4 L396.5,355.9 L395.0,355.9 L393.5,356.2 L392.0,356.4 L390.5,356.1 L389.0,356.0 L387.5,355.9 L386.0,355.8 L384.5,356.4 L383.0,356.3 L381.5,355.9 L380.0,355.8 L378.5,355.8 L377.0,356.2 L375.5,355.8 L374.0,355.9 L372.5,356.1 L371.0,355.9 L369.5,355.4 L368.0,355.8 L366.5,355.2 L365.0,355.9 L363.5,355.6 L362.0,355.3 L360.5,355.7 L359.0,355.8 L357.5,355.8 L356.0,355.5 L354.5,355.3 L353.0,355.6 L351.5,355.3 L350.0,355.2 L348.5,354.9 L347.0,354.9 L345.5,355.0 L344.0,355.0 L342.5,354.7 L341.0,354.8 L339.5,354.6 L338.0,354.6Z" fill="#272525" fill-opacity="0.84" filter="url(#b2)"/></g>
<clipPath id="c9"><rect x="337.0" y="378.1" width="128.7" height="19.6"/></clipPath>
<g clip-path="url(#c9)"><rect x="337.0" y="378.1" width="128.7" height="1.2" fill="#000" fill-opacity="0.08"/><rect x="337.0" y="378.1" width="1" height="19.6" fill="#000" fill-opacity="0.08"/><path d="M338.0,383.8 L339.5,384.2 L341.0,384.5 L342.5,384.2 L344.0,384.8 L345.5,384.4 L347.0,385.1 L348.5,384.9 L350.0,385.0 L351.5,385.2 L353.0,385.6 L354.5,385.3 L356.0,385.5 L357.5,385.7 L359.0,385.7 L360.5,386.2 L362.0,385.7 L363.5,385.6 L365.0,386.2 L366.5,386.0 L368.0,385.8 L369.5,386.4 L371.0,386.4 L372.5,386.0 L374.0,386.4 L375.5,386.2 L377.0,386.0 L378.5,386.1 L380.0,386.3 L381.5,386.5 L383.0,386.4 L384.5,386.6 L386.0,386.4 L387.5,386.8 L389.0,387.0 L390.5,387.1 L392.0,387.0 L393.5,387.2 L395.0,386.8 L396.5,386.8 L398.0,387.3 L399.5,386.9 L401.0,386.9 L402.5,387.3 L404.0,387.2 L405.5,386.9 L407.0,386.5 L408.5,387.0 L410.0,387.2 L411.5,386.8 L413.0,386.8 L414.5,386.5 L416.0,386.4 L417.5,386.7 L419.0,386.7 L420.5,386.3 L422.0,386.8 L423.5,386.9 L425.0,386.1 L426.5,386.4 L428.0,386.3 L429.5,386.4 L431.0,386.4 L432.5,386.4 L434.0,386.0 L435.5,386.4 L437.0,385.9 L438.5,386.1 L440.0,386.4 L441.5,386.2 L443.0,386.0 L444.5,385.9 L446.0,386.1 L447.5,385.5 L449.0,385.8 L450.5,385.8 L452.0,385.7 L453.5,385.5 L455.0,385.5 L456.5,385.3 L458.0,385.0 L459.5,384.6 L461.0,385.0 L462.5,384.6 L462.5,389.2 L461.0,389.0 L459.5,388.9 L458.0,389.1 L456.5,388.8 L455.0,389.2 L453.5,389.6 L452.0,389.7 L450.5,389.4 L449.0,389.8 L447.5,390.0 L446.0,390.0 L444.5,389.8 L443.0,389.9 L441.5,390.3 L440.0,390.3 L438.5,389.7 L437.0,389.9 L435.5,390.1 L434.0,390.2 L432.5,390.6 L431.0,389.9 L429.5,390.3 L428.0,390.4 L426.5,390.6 L425.0,390.8 L423.5,390.2 L422.0,390.9 L420.5,390.4 L419.0,390.3 L417.5,390.7 L416.0,390.3 L414.5,390.4 L413.0,390.9 L411.5,391.0 L410.0,390.5 L408.5,391.2 L407.0,390.7 L405.5,391.1 L404.0,390.7 L402.5,391.0 L401.0,390.8 L399.5,391.3 L398.0,390.7 L396.5,391.4 L395.0,391.3 L393.5,390.7 L392.0,391.1 L390.5,390.6 L389.0,390.8 L387.5,390.7 L386.0,390.8 L384.5,390.3 L383.0,390.5 L381.5,390.4 L380.0,390.2 L378.5,390.4 L377.0,390.5 L375.5,390.4 L374.0,390.1 L372.5,390.0 L371.0,389.8 L369.5,389.8 L368.0,390.2 L366.5,389.9 L365.0,390.3 L363.5,389.9 L362.0,389.8 L360.5,390.2 L359.0,389.6 L357.5,389.2 L356.0,389.5 L354.5,389.6 L353.0,389.2 L351.5,388.7 L350.0,389.0 L348.5,388.6 L347.0,388.8 L345.5,388.9 L344.0,388.8 L342.5,388.3 L341.0,388.3 L339.5,388.1 L338.0,388.2Z" fill="#272525" fill-opacity="0.66" filter="url(#b2)"/></g>
<clipPath id="c10"><rect x="337.0" y="401.1" width="128.7" height="19.6"/></clipPath>
<g clip-path="url(#c10)"><rect x="337.0" y="401.1" width="128.7" height="1.2" fill="#000" fill-opacity="0.08"/><rect x="337.0" y="401.1" width="1" height="19.6" fill="#000" fill-opacity="0.08"/><path d="M338.0,408.6 L358.0,409.8 L358.0,411.0 L338.0,409.8Z" fill="#272525" fill-opacity="0.20" filter="url(#b1)"/><rect x="360.0" y="407.6" width="18.5" height="4.4" rx="2.2" fill="#272525" fill-opacity="0.74" filter="url(#b2)"/><rect x="381.0" y="407.6" width="18.0" height="4.4" rx="2.2" fill="#272525" fill-opacity="0.72" filter="url(#b2)"/><rect x="423.0" y="408.0" width="18.0" height="4.4" rx="2.2" fill="#272525" fill-opacity="0.70" filter="url(#b2)"/><rect x="443.0" y="407.2" width="19.0" height="4.4" rx="2.2" fill="#272525" fill-opacity="0.70" filter="url(#b2)"/><rect x="402.0" y="409.5" width="16.0" height="1.8" rx="0.9" fill="#272525" fill-opacity="0.20" filter="url(#b1)"/></g>
<clipPath id="c11"><rect x="337.0" y="436.2" width="128.7" height="19.4"/></clipPath>
<g clip-path="url(#c11)"><rect x="337.0" y="436.2" width="128.7" height="1.2" fill="#000" fill-opacity="0.08"/><rect x="337.0" y="436.2" width="1" height="19.4" fill="#000" fill-opacity="0.08"/><path d="M338.0,441.8 L339.5,441.9 L341.0,442.0 L342.5,442.4 L344.0,442.3 L345.5,442.6 L347.0,442.5 L348.5,442.4 L350.0,442.4 L351.5,442.8 L353.0,443.0 L354.5,443.4 L356.0,443.8 L357.5,444.1 L359.0,444.2 L360.5,444.2 L362.0,443.9 L363.5,443.9 L365.0,444.0 L366.5,444.2 L368.0,444.4 L369.5,444.2 L371.0,444.1 L372.5,444.3 L374.0,444.1 L375.5,444.1 L377.0,444.1 L378.5,444.0 L380.0,444.2 L381.5,444.4 L383.0,444.5 L384.5,444.0 L386.0,444.2 L387.5,444.5 L389.0,444.3 L390.5,444.4 L392.0,444.6 L393.5,444.4 L395.0,444.4 L396.5,444.1 L398.0,444.3 L399.5,444.3 L401.0,444.3 L402.5,444.4 L404.0,444.5 L405.5,444.6 L407.0,444.5 L408.5,444.1 L410.0,444.5 L411.5,444.3 L413.0,444.5 L414.5,444.4 L416.0,444.5 L417.5,444.2 L419.0,444.7 L420.5,444.1 L422.0,444.3 L423.5,444.5 L425.0,444.5 L426.5,444.2 L428.0,444.5 L429.5,444.4 L431.0,444.3 L432.5,444.6 L434.0,444.2 L435.5,444.7 L437.0,444.6 L438.5,444.4 L440.0,444.7 L441.5,444.4 L443.0,444.0 L444.5,444.1 L446.0,443.7 L447.5,443.3 L449.0,443.1 L450.5,443.2 L452.0,443.1 L453.5,443.0 L455.0,442.6 L456.5,442.5 L458.0,443.0 L459.5,442.8 L461.0,442.9 L462.5,443.0 L462.5,447.2 L461.0,447.9 L459.5,447.9 L458.0,448.6 L456.5,448.7 L455.0,449.2 L453.5,449.0 L452.0,449.3 L450.5,449.5 L449.0,449.5 L447.5,450.1 L446.0,450.0 L444.5,450.5 L443.0,450.4 L441.5,450.8 L440.0,450.6 L438.5,450.5 L437.0,450.5 L435.5,450.7 L434.0,450.4 L432.5,450.8 L431.0,450.5 L429.5,450.6 L428.0,450.7 L426.5,450.7 L425.0,450.3 L423.5,450.3 L422.0,450.5 L420.5,450.2 L419.0,450.7 L417.5,450.8 L416.0,450.3 L414.5,450.5 L413.0,450.5 L411.5,450.3 L410.0,450.5 L408.5,450.6 L407.0,450.2 L405.5,450.6 L404.0,450.3 L402.5,450.3 L401.0,450.2 L399.5,450.4 L398.0,450.0 L396.5,450.0 L395.0,450.2 L393.5,450.0 L392.0,450.4 L390.5,450.2 L389.0,450.4 L387.5,450.0 L386.0,450.1 L384.5,450.4 L383.0,450.4 L381.5,449.8 L380.0,450.3 L378.5,450.2 L377.0,449.8 L375.5,449.7 L374.0,450.1 L372.5,450.0 L371.0,449.9 L369.5,450.0 L368.0,449.9 L366.5,449.7 L365.0,449.9 L363.5,449.9 L362.0,450.1 L360.5,450.0 L359.0,449.5 L357.5,449.6 L356.0,449.3 L354.5,449.0 L353.0,449.0 L351.5,448.3 L350.0,448.2 L348.5,448.1 L347.0,448.2 L345.5,447.7 L344.0,448.0 L342.5,447.8 L341.0,447.5 L339.5,447.5 L338.0,447.2Z" fill="#272525" fill-opacity="0.88" filter="url(#b2)"/></g>
<clipPath id="c12"><rect x="337.0" y="458.8" width="128.7" height="19.8"/></clipPath>
<g clip-path="url(#c12)"><rect x="337.0" y="458.8" width="128.7" height="1.2" fill="#000" fill-opacity="0.08"/><rect x="337.0" y="458.8" width="1" height="19.8" fill="#000" fill-opacity="0.08"/><path d="M338.0,470.6 L357.0,472.0 L357.0,473.2 L338.0,471.8Z" fill="#272525" fill-opacity="0.16" filter="url(#b1)"/><path d="M400.0,470.8 L418.0,469.8 L418.0,471.4 L400.0,472.4Z" fill="#272525" fill-opacity="0.25" filter="url(#b1)"/><rect x="360.0" y="469.8" width="19.0" height="4.8" rx="2.4" fill="#272525" fill-opacity="0.82" filter="url(#b2)"/><rect x="362.0" y="467.1" width="16.0" height="1.8" rx="0.9" fill="#272525" fill-opacity="0.30" filter="url(#b1)"/><rect x="379.5" y="469.0" width="19.5" height="4.8" rx="2.4" fill="#272525" fill-opacity="0.82" filter="url(#b2)"/><rect x="381.5" y="466.3" width="16.5" height="1.8" rx="0.9" fill="#272525" fill-opacity="0.30" filter="url(#b1)"/><path d="M418.0,467.4 L440.0,466.6 L462.0,463.6 L462.0,468.8 L440.0,471.6 L418.0,472.6Z" fill="#272525" fill-opacity="0.88" filter="url(#b1)"/><path d="M420.0,463.0 L440.0,461.8 L461.0,459.6 L461.0,463.6 L440.0,465.8 L420.0,466.8Z" fill="#272525" fill-opacity="0.84" filter="url(#b1)"/><path d="M418.0,465.8 L462.0,462.2 L462.0,464.6 L418.0,468.2Z" fill="#272525" fill-opacity="0.55" filter="url(#b1)"/></g>
<clipPath id="c13"><rect x="337.0" y="492.7" width="128.7" height="19.3"/></clipPath>
<g clip-path="url(#c13)"><rect x="337.0" y="492.7" width="128.7" height="1.2" fill="#000" fill-opacity="0.08"/><rect x="337.0" y="492.7" width="1" height="19.3" fill="#000" fill-opacity="0.08"/><path d="M338.0,497.1 L339.5,497.4 L341.0,497.5 L342.5,497.6 L344.0,497.4 L345.5,498.0 L347.0,497.6 L348.5,497.9 L350.0,498.2 L351.5,498.2 L353.0,498.9 L354.5,499.2 L356.0,498.9 L357.5,499.6 L359.0,499.2 L360.5,499.7 L362.0,500.1 L363.5,500.0 L365.0,499.9 L366.5,499.5 L368.0,500.1 L369.5,499.6 L371.0,499.7 L372.5,500.2 L374.0,499.9 L375.5,500.2 L377.0,500.1 L378.5,500.6 L380.0,500.3 L381.5,500.5 L383.0,500.7 L384.5,500.6 L386.0,500.7 L387.5,500.6 L389.0,500.7 L390.5,500.4 L392.0,500.6 L393.5,500.3 L395.0,500.5 L396.5,500.2 L398.0,500.1 L399.5,500.1 L401.0,499.9 L402.5,499.9 L404.0,500.5 L405.5,499.9 L407.0,500.3 L408.5,499.8 L410.0,499.9 L411.5,500.0 L413.0,500.2 L414.5,499.9 L416.0,499.9 L417.5,500.0 L419.0,500.4 L420.5,499.9 L422.0,500.4 L423.5,500.1 L425.0,500.0 L426.5,499.6 L428.0,500.1 L429.5,499.9 L431.0,499.7 L432.5,499.9 L434.0,499.4 L435.5,499.6 L437.0,499.9 L438.5,499.4 L440.0,499.5 L441.5,499.9 L443.0,499.7 L444.5,499.3 L446.0,499.1 L447.5,498.9 L449.0,499.5 L450.5,498.7 L452.0,499.1 L453.5,498.8 L455.0,499.1 L456.5,498.9 L458.0,498.7 L459.5,498.7 L461.0,498.5 L462.5,498.2 L462.5,503.2 L461.0,503.0 L459.5,503.0 L458.0,503.4 L456.5,503.4 L455.0,503.8 L453.5,503.8 L452.0,503.6 L450.5,503.9 L449.0,504.4 L447.5,504.6 L446.0,504.6 L444.5,504.5 L443.0,504.9 L441.5,504.6 L440.0,504.4 L438.5,504.4 L437.0,504.8 L435.5,505.0 L434.0,504.7 L432.5,504.6 L431.0,505.2 L429.5,504.9 L428.0,504.8 L426.5,505.3 L425.0,504.8 L423.5,505.4 L422.0,504.9 L420.5,505.4 L419.0,505.1 L417.5,505.2 L416.0,505.3 L414.5,505.0 L413.0,504.9 L411.5,505.3 L410.0,505.0 L408.5,504.9 L407.0,505.5 L405.5,505.2 L404.0,505.0 L402.5,505.4 L401.0,505.1 L399.5,505.7 L398.0,505.2 L396.5,505.0 L395.0,505.7 L393.5,505.0 L392.0,505.3 L390.5,505.5 L389.0,505.5 L387.5,505.7 L386.0,505.6 L384.5,505.5 L383.0,505.3 L381.5,505.5 L380.0,505.3 L378.5,505.4 L377.0,505.0 L375.5,505.3 L374.0,505.3 L372.5,504.8 L371.0,505.2 L369.5,505.1 L368.0,505.2 L366.5,504.5 L365.0,505.1 L363.5,504.4 L362.0,504.9 L360.5,504.8 L359.0,504.6 L357.5,504.2 L356.0,504.3 L354.5,504.0 L353.0,503.7 L351.5,503.5 L350.0,503.2 L348.5,502.9 L347.0,502.7 L345.5,503.0 L344.0,502.4 L342.5,502.2 L341.0,502.2 L339.5,502.4 L338.0,502.0Z" fill="#272525" fill-opacity="0.88" filter="url(#b2)"/></g>
<clipPath id="c14"><rect x="337.0" y="515.7" width="128.7" height="18.9"/></clipPath>
<g clip-path="url(#c14)"><rect x="337.0" y="515.7" width="128.7" height="1.2" fill="#000" fill-opacity="0.08"/><rect x="337.0" y="515.7" width="1" height="18.9" fill="#000" fill-opacity="0.08"/><rect x="359.3" y="522.8" width="17.8" height="4.8" rx="2.4" fill="#272525" fill-opacity="0.84" filter="url(#b2)"/><rect x="380.6" y="522.8" width="18.4" height="4.8" rx="2.4" fill="#272525" fill-opacity="0.84" filter="url(#b2)"/><rect x="422.7" y="522.8" width="17.4" height="4.8" rx="2.4" fill="#272525" fill-opacity="0.84" filter="url(#b2)"/><rect x="443.5" y="522.8" width="17.9" height="4.8" rx="2.4" fill="#272525" fill-opacity="0.84" filter="url(#b2)"/></g>
<clipPath id="c15"><rect x="337.0" y="538.1" width="128.7" height="19.8"/></clipPath>
<g clip-path="url(#c15)"><rect x="337.0" y="538.1" width="128.7" height="1.2" fill="#000" fill-opacity="0.08"/><rect x="337.0" y="538.1" width="1" height="19.8" fill="#000" fill-opacity="0.08"/><path d="M338.0,544.1 L339.5,544.3 L341.0,544.1 L342.5,544.5 L344.0,544.4 L345.5,544.2 L347.0,544.6 L348.5,544.9 L350.0,544.3 L351.5,544.9 L353.0,544.8 L354.5,544.4 L356.0,545.0 L357.5,544.9 L359.0,544.8 L360.5,544.7 L362.0,544.8 L363.5,544.8 L365.0,545.2 L366.5,545.4 L368.0,545.2 L369.5,545.4 L371.0,544.8 L372.5,545.3 L374.0,544.9 L375.5,545.4 L377.0,544.8 L378.5,544.9 L380.0,545.1 L381.5,545.5 L383.0,545.2 L384.5,545.4 L386.0,545.1 L387.5,545.2 L389.0,545.2 L390.5,545.6 L392.0,545.4 L393.5,544.9 L395.0,545.2 L396.5,545.0 L398.0,545.3 L399.5,545.6 L401.0,545.1 L402.5,545.7 L404.0,545.2 L405.5,545.1 L407.0,545.8 L408.5,545.6 L410.0,545.2 L411.5,545.5 L413.0,545.0 L414.5,545.4 L416.0,545.1 L417.5,545.1 L419.0,544.9 L420.5,544.9 L422.0,545.2 L423.5,545.2 L425.0,545.4 L426.5,545.3 L428.0,544.7 L429.5,544.8 L431.0,544.8 L432.5,545.2 L434.0,545.0 L435.5,544.5 L437.0,545.2 L438.5,545.0 L440.0,544.9 L441.5,544.6 L443.0,544.9 L444.5,544.4 L446.0,544.3 L447.5,544.5 L449.0,544.4 L450.5,544.4 L452.0,544.4 L453.5,544.3 L455.0,544.5 L456.5,544.1 L458.0,544.1 L459.5,544.2 L461.0,543.9 L462.5,544.1 L462.5,547.7 L461.0,547.9 L459.5,547.8 L458.0,547.8 L456.5,547.6 L455.0,547.8 L453.5,547.5 L452.0,547.5 L450.5,547.8 L449.0,547.8 L447.5,547.8 L446.0,548.0 L444.5,548.2 L443.0,547.9 L441.5,548.4 L440.0,548.6 L438.5,548.3 L437.0,548.8 L435.5,548.2 L434.0,548.2 L432.5,548.3 L431.0,548.6 L429.5,548.9 L428.0,548.9 L426.5,548.8 L425.0,549.1 L423.5,548.5 L422.0,548.8 L420.5,549.1 L419.0,549.2 L417.5,548.8 L416.0,549.2 L414.5,549.1 L413.0,548.7 L411.5,548.7 L410.0,549.4 L408.5,549.3 L407.0,549.0 L405.5,549.1 L404.0,549.0 L402.5,549.0 L401.0,549.1 L399.5,549.0 L398.0,549.1 L396.5,548.8 L395.0,549.0 L393.5,548.7 L392.0,549.0 L390.5,549.1 L389.0,549.0 L387.5,548.4 L386.0,548.7 L384.5,549.1 L383.0,548.9 L381.5,548.7 L380.0,548.4 L378.5,548.5 L377.0,548.5 L375.5,548.8 L374.0,548.7 L372.5,548.9 L371.0,548.4 L369.5,548.4 L368.0,548.5 L366.5,548.7 L365.0,548.5 L363.5,548.3 L362.0,548.7 L360.5,548.4 L359.0,548.5 L357.5,548.3 L356.0,548.2 L354.5,548.8 L353.0,548.3 L351.5,548.1 L350.0,548.2 L348.5,548.4 L347.0,548.6 L345.5,548.1 L344.0,548.3 L342.5,548.3 L341.0,547.9 L339.5,547.9 L338.0,548.3Z" fill="#272525" fill-opacity="0.58" filter="url(#b2)"/></g>
<rect x="0" y="0" width="520" height="1" fill="#7a7a7a"/>
<rect x="0" y="1" width="520" height="1" fill="#3a3a3a"/>
<rect x="0" y="0" width="1" height="568" fill="#000"/>
<rect x="1" y="2" width="1" height="564" fill="#b0b0b0"/>
<rect x="518" y="0" width="1" height="568" fill="#3a3a3a"/>
<rect x="519" y="0" width="1" height="568" fill="#000"/>
<rect x="0" y="566" width="520" height="1" fill="#3a3a3a"/>
<rect x="0" y="567" width="520" height="1" fill="#7a7a7a"/>
</svg></body></html>
